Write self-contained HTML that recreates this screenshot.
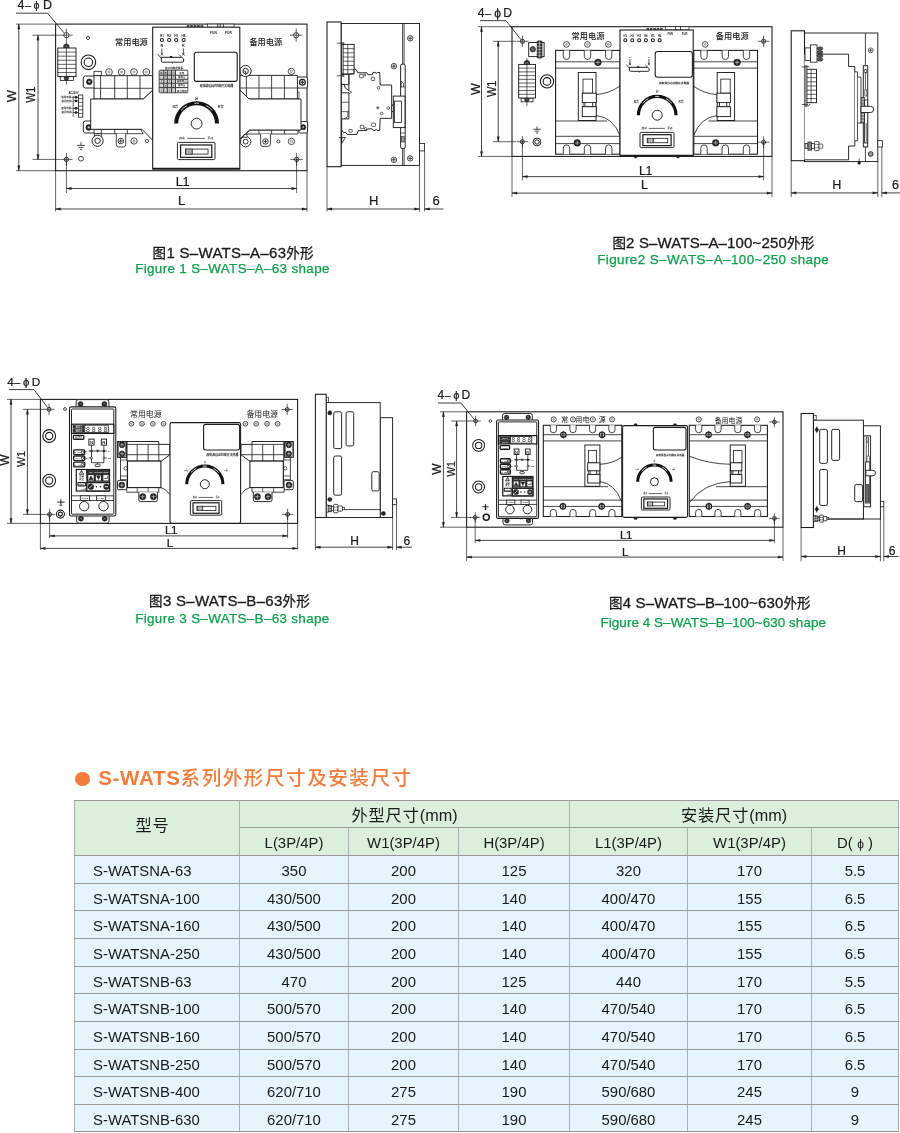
<!DOCTYPE html>
<html lang="zh-CN">
<head>
<meta charset="utf-8">
<title>S-WATS系列外形尺寸及安装尺寸</title>
<style>
html,body{margin:0;padding:0;background:#fff;}
body{width:900px;height:1133px;position:relative;overflow:hidden;font-family:"Liberation Sans","Noto Sans CJK SC",sans-serif;color:#1a1a1a;}
#draw{position:absolute;left:0;top:0;width:900px;height:760px;will-change:transform;}
#draw text{font-family:"Liberation Sans","Noto Sans CJK SC",sans-serif;}
#draw text.d{stroke:#1a1a1a;stroke-width:0.22px;}
h2{position:absolute;left:74.5px;top:764px;margin:0;font-size:20.5px;line-height:28px;font-weight:700;color:#f47c3c;white-space:nowrap;letter-spacing:0.7px;will-change:transform;}
h2 .dot{display:inline-block;width:14.6px;height:14.6px;border-radius:50%;background:#f47c3c;vertical-align:-1.2px;margin-right:8.6px;}
h2 .cn{font-weight:500;font-size:19.6px;letter-spacing:1.5px;}
table{position:absolute;left:74px;top:799.6px;border-collapse:collapse;table-layout:fixed;width:824px;font-size:14.9px;will-change:transform;}
td,th{border:1px solid #9a9a9a;border-left-color:#acb0b6;border-right-color:#acb0b6;padding:3.6px 0 0 0;text-align:center;font-weight:400;height:27px;line-height:22px;box-sizing:border-box;white-space:nowrap;overflow:hidden;}
tr.h28 td,tr.h28 th{height:28px;}
th{background:#dcefdc;}
td{background:#e6f5fd;}
td.m{text-align:left;padding-left:18px;}
th.big{font-size:16.2px;letter-spacing:0.9px;padding-top:2.6px;}
th.big .lat{letter-spacing:0;}
th.first{padding-right:9px;padding-top:0;padding-bottom:7px;}
</style>
</head>
<body>
<svg id="draw" width="900" height="760" viewBox="0 0 900 760" fill="none" stroke="#1c1c1c" stroke-width="0.95" stroke-linecap="butt" stroke-linejoin="miter">
<rect x="55.6" y="24.1" width="251.4" height="146.6" fill="#fff" stroke-width="1.08"/>
<text x="17.6" y="9.3" fill="#1a1a1a" stroke="none" font-size="12.5" class="d">4</text>
<text x="25.2" y="9.1" fill="#1a1a1a" stroke="none" font-size="10.5" class="d">–</text>
<text x="36.6" y="9.4" fill="#1a1a1a" stroke="none" font-size="10.7" class="d" text-anchor="middle">ϕ</text>
<text x="43" y="9.3" fill="#1a1a1a" stroke="none" font-size="12.5" class="d">D</text>
<polyline points="16,13.2 47.5,13.2 64.6,33.4" fill="none" stroke-width="0.84"/>
<line x1="16" y1="24.1" x2="55.6" y2="24.1" stroke-width="0.68"/>
<line x1="16" y1="170.7" x2="55.6" y2="170.7" stroke-width="0.68"/>
<line x1="18.8" y1="24.1" x2="18.8" y2="170.7" stroke-width="0.81"/>
<polygon points="18.8,24.1 17.6,29.1 20,29.1" fill="#1c1c1c" stroke-width="0.27"/>
<polygon points="18.8,170.7 17.6,165.7 20,165.7" fill="#1c1c1c" stroke-width="0.27"/>
<text x="16.2" y="96" fill="#1a1a1a" stroke="none" font-size="13" class="d" text-anchor="middle" transform="rotate(-90 16.2 96)">W</text>
<line x1="32.5" y1="35.2" x2="60" y2="35.2" stroke-width="0.68"/>
<line x1="32.5" y1="159.4" x2="60" y2="159.4" stroke-width="0.68"/>
<line x1="38" y1="35.2" x2="38" y2="159.4" stroke-width="0.81"/>
<polygon points="38,35.2 36.8,40.2 39.2,40.2" fill="#1c1c1c" stroke-width="0.27"/>
<polygon points="38,159.4 36.8,154.4 39.2,154.4" fill="#1c1c1c" stroke-width="0.27"/>
<text x="35" y="94.8" fill="#1a1a1a" stroke="none" font-size="12.2" class="d" text-anchor="middle" transform="rotate(-90 35 94.8)" textLength="16.1" lengthAdjust="spacingAndGlyphs">W1</text>
<circle cx="66.4" cy="35.2" r="2.6" fill="#fff" stroke-width="0.81"/>
<line x1="60.2" y1="35.2" x2="72.6" y2="35.2" stroke-width="0.68"/>
<line x1="66.4" y1="28.7" x2="66.4" y2="41.7" stroke-width="0.68"/>
<circle cx="296.2" cy="35.2" r="2.6" fill="#fff" stroke-width="0.81"/>
<line x1="290" y1="35.2" x2="302.4" y2="35.2" stroke-width="0.68"/>
<line x1="296.2" y1="28.7" x2="296.2" y2="41.7" stroke-width="0.68"/>
<circle cx="66.4" cy="159.4" r="2.2" fill="#ddd" stroke-width="0.81"/>
<line x1="60.2" y1="159.4" x2="72.6" y2="159.4" stroke-width="0.68"/>
<line x1="66.4" y1="152.9" x2="66.4" y2="165.9" stroke-width="0.68"/>
<circle cx="296.6" cy="159.4" r="2.2" fill="#ddd" stroke-width="0.81"/>
<line x1="290.4" y1="159.4" x2="302.8" y2="159.4" stroke-width="0.68"/>
<line x1="296.6" y1="152.9" x2="296.6" y2="165.9" stroke-width="0.68"/>
<line x1="66.4" y1="159.4" x2="66.4" y2="193" stroke-width="0.68"/>
<line x1="296.6" y1="159.4" x2="296.6" y2="193" stroke-width="0.68"/>
<line x1="55.6" y1="170.7" x2="55.6" y2="211.5" stroke-width="0.68"/>
<line x1="307" y1="170.7" x2="307" y2="211.5" stroke-width="0.68"/>
<line x1="66.4" y1="188.5" x2="296.6" y2="188.5" stroke-width="0.81"/>
<polygon points="66.4,188.5 71.4,187.3 71.4,189.7" fill="#1c1c1c" stroke-width="0.27"/>
<polygon points="296.6,188.5 291.6,187.3 291.6,189.7" fill="#1c1c1c" stroke-width="0.27"/>
<line x1="55.6" y1="209" x2="307" y2="209" stroke-width="0.81"/>
<polygon points="55.6,209 60.6,207.8 60.6,210.2" fill="#1c1c1c" stroke-width="0.27"/>
<polygon points="307,209 302,207.8 302,210.2" fill="#1c1c1c" stroke-width="0.27"/>
<text x="182.4" y="185.8" fill="#1a1a1a" stroke="none" font-size="12.8" class="d" text-anchor="middle" letter-spacing="-0.5">L1</text>
<text x="181.6" y="205.2" fill="#1a1a1a" stroke="none" font-size="12.8" class="d" text-anchor="middle">L</text>
<circle cx="88" cy="38" r="1.5" fill="#fff" stroke-width="0.81"/>
<text x="131.4" y="44.6" fill="#1a1a1a" stroke="none" font-size="8.2" text-anchor="middle" font-weight="500">常用电源</text>
<text x="265.8" y="44.6" fill="#1a1a1a" stroke="none" font-size="8.2" text-anchor="middle" font-weight="500">备用电源</text>
<circle cx="66.4" cy="46.8" r="2.8" fill="#444" stroke-width="0.68"/>
<circle cx="66.4" cy="46.8" r="1.2" fill="#aaa" stroke-width="0.41"/>
<rect x="60.3" y="76.6" width="13.2" height="3.8" fill="#fff" stroke-width="0.81"/>
<circle cx="66.4" cy="78.2" r="2.2" fill="#444" stroke-width="0.68"/>
<circle cx="66.4" cy="78.2" r="1" fill="#aaa" stroke-width="0.41"/>
<rect x="57.8" y="48" width="18.2" height="28.6" fill="#fff" stroke-width="0.94"/>
<line x1="57.8" y1="52.09" x2="76" y2="52.09" stroke-width="0.68"/>
<line x1="57.8" y1="56.17" x2="76" y2="56.17" stroke-width="0.68"/>
<line x1="57.8" y1="60.26" x2="76" y2="60.26" stroke-width="0.68"/>
<line x1="57.8" y1="64.34" x2="76" y2="64.34" stroke-width="0.68"/>
<line x1="57.8" y1="68.43" x2="76" y2="68.43" stroke-width="0.68"/>
<line x1="57.8" y1="72.51" x2="76" y2="72.51" stroke-width="0.68"/>
<line x1="66.4" y1="41.5" x2="66.4" y2="84.6" stroke-width="0.68"/>
<circle cx="88.4" cy="62.3" r="7.3" fill="#fff" stroke-width="1.08"/>
<circle cx="88.4" cy="62.3" r="4.3" fill="#fff" stroke-width="1.08"/>
<line x1="81" y1="142.2" x2="81" y2="145.4" stroke-width="0.81"/>
<line x1="77" y1="145.4" x2="85" y2="145.4" stroke-width="0.81"/>
<line x1="78.4" y1="147.4" x2="83.6" y2="147.4" stroke-width="0.81"/>
<line x1="79.8" y1="149.4" x2="82.2" y2="149.4" stroke-width="0.81"/>
<circle cx="81" cy="158.7" r="2.4" fill="#fff" stroke-width="0.81"/>
<text x="73.5" y="94" fill="#222" stroke="none" font-size="2.7" text-anchor="middle" font-weight="700">AC220V</text>
<rect x="78.6" y="95" width="4.2" height="22.2" fill="#fff" stroke-width="0.81"/>
<line x1="78.6" y1="98.7" x2="82.8" y2="98.7" stroke-width="0.68"/>
<line x1="78.6" y1="102.4" x2="82.8" y2="102.4" stroke-width="0.68"/>
<line x1="78.6" y1="106.1" x2="82.8" y2="106.1" stroke-width="0.68"/>
<line x1="78.6" y1="109.8" x2="82.8" y2="109.8" stroke-width="0.68"/>
<line x1="78.6" y1="113.5" x2="82.8" y2="113.5" stroke-width="0.68"/>
<line x1="73.2" y1="96" x2="73.2" y2="116.5" stroke-width="0.68"/>
<text x="73" y="98.1" fill="#333" stroke="none" font-size="2.5" text-anchor="end" font-weight="700">常用电源N</text>
<line x1="73.2" y1="97.2" x2="78.6" y2="97.2" stroke-width="0.68"/>
<circle cx="76" cy="97.2" r="1.2" fill="#222" stroke-width="0.27"/>
<text x="73" y="101.8" fill="#333" stroke="none" font-size="2.5" text-anchor="end" font-weight="700">常用电源L</text>
<line x1="73.2" y1="100.9" x2="78.6" y2="100.9" stroke-width="0.68"/>
<circle cx="76" cy="100.9" r="1.2" fill="#222" stroke-width="0.27"/>
<text x="73" y="109.1" fill="#333" stroke="none" font-size="2.5" text-anchor="end" font-weight="700">备用电源N</text>
<line x1="73.2" y1="108.2" x2="78.6" y2="108.2" stroke-width="0.68"/>
<circle cx="76" cy="108.2" r="1.2" fill="#222" stroke-width="0.27"/>
<text x="73" y="113.4" fill="#333" stroke="none" font-size="2.5" text-anchor="end" font-weight="700">备用电源L</text>
<line x1="73.2" y1="112.5" x2="78.6" y2="112.5" stroke-width="0.68"/>
<circle cx="76" cy="112.5" r="1.2" fill="#222" stroke-width="0.27"/>
<rect x="83.3" y="76" width="13.7" height="12" rx="2" fill="#fff" stroke-width="0.94"/>
<circle cx="89.3" cy="81.8" r="2.9" fill="#222" stroke-width="0.54"/>
<circle cx="89.3" cy="81.8" r="1.3" fill="#ccc" stroke-width="0.41"/>
<rect x="83.3" y="121" width="13.7" height="12" rx="2" fill="#fff" stroke-width="0.94"/>
<circle cx="88.8" cy="127.4" r="2.9" fill="#222" stroke-width="0.54"/>
<circle cx="88.8" cy="127.4" r="1.3" fill="#ccc" stroke-width="0.41"/>
<rect x="94" y="71.3" width="7.3" height="4.4" fill="#fff" stroke-width="0.81"/>
<circle cx="109" cy="72" r="3.35" fill="#fff" stroke-width="0.84" stroke="#2a2a2a"/>
<circle cx="109" cy="72" r="1.18" fill="#fff" stroke-width="0.41" stroke="#444"/>
<line x1="108.43" y1="72" x2="109.57" y2="72" stroke-width="0.3" stroke="#555"/>
<line x1="109" y1="71.43" x2="109" y2="72.57" stroke-width="0.3" stroke="#555"/>
<circle cx="121.6" cy="72" r="3.35" fill="#fff" stroke-width="0.84" stroke="#2a2a2a"/>
<circle cx="121.6" cy="72" r="1.18" fill="#fff" stroke-width="0.41" stroke="#444"/>
<line x1="121.03" y1="72" x2="122.17" y2="72" stroke-width="0.3" stroke="#555"/>
<line x1="121.6" y1="71.43" x2="121.6" y2="72.57" stroke-width="0.3" stroke="#555"/>
<circle cx="134" cy="72" r="3.35" fill="#fff" stroke-width="0.84" stroke="#2a2a2a"/>
<circle cx="134" cy="72" r="1.18" fill="#fff" stroke-width="0.41" stroke="#444"/>
<line x1="133.43" y1="72" x2="134.57" y2="72" stroke-width="0.3" stroke="#555"/>
<line x1="134" y1="71.43" x2="134" y2="72.57" stroke-width="0.3" stroke="#555"/>
<circle cx="146.3" cy="72" r="3.35" fill="#fff" stroke-width="0.84" stroke="#2a2a2a"/>
<circle cx="146.3" cy="72" r="1.18" fill="#fff" stroke-width="0.41" stroke="#444"/>
<line x1="145.73" y1="72" x2="146.87" y2="72" stroke-width="0.3" stroke="#555"/>
<line x1="146.3" y1="71.43" x2="146.3" y2="72.57" stroke-width="0.3" stroke="#555"/>
<polygon points="94,99 94,75.7 152.7,75.7 152.7,90.3 143.3,99" fill="#fff" stroke-width="0.94"/>
<line x1="94" y1="88.3" x2="152.7" y2="88.3" stroke-width="0.81"/>
<line x1="100.6" y1="75.7" x2="100.6" y2="99" stroke-width="0.81"/>
<line x1="114.7" y1="75.7" x2="114.7" y2="99" stroke-width="0.81"/>
<line x1="127.3" y1="75.7" x2="127.3" y2="99" stroke-width="0.81"/>
<line x1="140" y1="75.7" x2="140" y2="99" stroke-width="0.81"/>
<polygon points="94,129.3 94,133.7 143.4,133.7 140.4,129.3" fill="#fff" stroke-width="0.81"/>
<line x1="101.3" y1="129.3" x2="101.3" y2="133.7" stroke-width="0.81"/>
<line x1="114.7" y1="129.3" x2="114.7" y2="133.7" stroke-width="0.81"/>
<line x1="127.3" y1="129.3" x2="127.3" y2="133.7" stroke-width="0.81"/>
<polygon points="90.7,99 143.3,99 152.7,90.3 152.7,140.3 142,129.3 90.7,129.3" fill="#fff" stroke-width="0.94"/>
<rect x="94.7" y="133.7" width="6.6" height="3.8" fill="#fff" stroke-width="0.81"/>
<circle cx="97.6" cy="140.8" r="5.6" fill="#fff" stroke-width="0.94"/>
<circle cx="97.6" cy="140.8" r="2.7" fill="#fff" stroke-width="0.94"/>
<path d="M116.3 133.7 V144.5 Q116.3 147 118.8 147 H123.2 Q125.7 147 125.7 144.5 V133.7" fill="#fff" stroke-width="0.81"/>
<circle cx="120.8" cy="141" r="2.8" fill="#fff" stroke-width="0.81"/>
<line x1="118.84" y1="141" x2="122.76" y2="141" stroke-width="0.81"/>
<line x1="120.8" y1="139.04" x2="120.8" y2="142.96" stroke-width="0.81"/>
<circle cx="134" cy="141" r="3.15" fill="#fff" stroke-width="0.84" stroke="#2a2a2a"/>
<circle cx="134" cy="141" r="1.18" fill="#fff" stroke-width="0.41" stroke="#444"/>
<line x1="133.43" y1="141" x2="134.57" y2="141" stroke-width="0.3" stroke="#555"/>
<line x1="134" y1="140.43" x2="134" y2="141.57" stroke-width="0.3" stroke="#555"/>
<circle cx="147" cy="141" r="1.6" fill="#fff" stroke-width="0.81"/>
<rect x="296" y="77" width="11.6" height="11" rx="1.5" fill="#fff" stroke-width="0.94"/>
<circle cx="302.4" cy="82.2" r="2.9" fill="#fff" stroke-width="1.22"/>
<line x1="300.5" y1="82.2" x2="304.3" y2="82.2" stroke-width="1.08"/>
<line x1="302.4" y1="80.3" x2="302.4" y2="84.1" stroke-width="1.08"/>
<rect x="299" y="121.6" width="8.6" height="11.4" rx="1.5" fill="#fff" stroke-width="0.94"/>
<circle cx="303.2" cy="127.2" r="2.6" fill="#222" stroke-width="0.54"/>
<circle cx="303.2" cy="127.2" r="1.1" fill="#ccc" stroke-width="0.41"/>
<polygon points="239.8,75.4 297.4,75.4 297.4,99 249,99 239.8,90" fill="#fff" stroke-width="0.94"/>
<line x1="239.8" y1="88" x2="297.4" y2="88" stroke-width="0.81"/>
<line x1="246.4" y1="75.4" x2="246.4" y2="99" stroke-width="0.81"/>
<line x1="259" y1="75.4" x2="259" y2="99" stroke-width="0.81"/>
<line x1="271.6" y1="75.4" x2="271.6" y2="99" stroke-width="0.81"/>
<line x1="284.4" y1="75.4" x2="284.4" y2="99" stroke-width="0.81"/>
<rect x="297.4" y="92" width="1.6" height="6.4" fill="#fff" stroke-width="0.68"/>
<polygon points="250,130 246,134 298,134 298,130" fill="#fff" stroke-width="0.81"/>
<line x1="259" y1="130" x2="259" y2="134" stroke-width="0.81"/>
<line x1="271.6" y1="130" x2="271.6" y2="134" stroke-width="0.81"/>
<line x1="284.4" y1="130" x2="284.4" y2="134" stroke-width="0.81"/>
<polygon points="239.8,90 249,99 301,99 301,130 249.6,130 239.8,139" fill="#fff" stroke-width="0.94"/>
<circle cx="245.6" cy="71" r="5.6" fill="#fff" stroke-width="0.94"/>
<circle cx="245.6" cy="71" r="2.7" fill="#fff" stroke-width="0.94"/>
<line x1="245.6" y1="71" x2="245.6" y2="75.4" stroke-width="0.81"/>
<line x1="243.4" y1="71" x2="245.6" y2="71" stroke-width="0.68"/>
<circle cx="291.4" cy="71.4" r="3.15" fill="#fff" stroke-width="0.84" stroke="#2a2a2a"/>
<circle cx="291.4" cy="71.4" r="1.18" fill="#fff" stroke-width="0.41" stroke="#444"/>
<line x1="290.83" y1="71.4" x2="291.97" y2="71.4" stroke-width="0.3" stroke="#555"/>
<line x1="291.4" y1="70.83" x2="291.4" y2="71.97" stroke-width="0.3" stroke="#555"/>
<circle cx="245.6" cy="141.6" r="5.2" fill="#fff" stroke-width="0.94"/>
<circle cx="245.6" cy="141.6" r="2.5" fill="#fff" stroke-width="0.94"/>
<rect x="244" y="134.5" width="3" height="3" fill="#fff" stroke-width="0.68"/>
<path d="M260.6 134 V144 Q260.6 146.4 263 146.4 H268 Q270.4 146.4 270.4 144 V134" fill="#fff" stroke-width="0.81"/>
<circle cx="265.4" cy="141.4" r="2.8" fill="#fff" stroke-width="0.81"/>
<line x1="263.44" y1="141.4" x2="267.36" y2="141.4" stroke-width="0.81"/>
<line x1="265.4" y1="139.44" x2="265.4" y2="143.36" stroke-width="0.81"/>
<circle cx="278.4" cy="141.4" r="1.5" fill="#fff" stroke-width="0.81"/>
<circle cx="291.4" cy="141.4" r="3.15" fill="#fff" stroke-width="0.84" stroke="#2a2a2a"/>
<circle cx="291.4" cy="141.4" r="1.18" fill="#fff" stroke-width="0.41" stroke="#444"/>
<line x1="290.83" y1="141.4" x2="291.97" y2="141.4" stroke-width="0.3" stroke="#555"/>
<line x1="291.4" y1="140.83" x2="291.4" y2="141.97" stroke-width="0.3" stroke="#555"/>
<rect x="207.6" y="24.1" width="10.2" height="3.1" fill="#fff" stroke-width="0.68"/>
<rect x="217.8" y="24.1" width="2.4" height="3.1" fill="#fff" stroke-width="0.68"/>
<rect x="220.2" y="24.1" width="3.1" height="3.1" fill="#fff" stroke-width="0.68"/>
<rect x="223.3" y="24.1" width="10.8" height="3.1" fill="#fff" stroke-width="0.68"/>
<line x1="186.7" y1="26" x2="204" y2="26" stroke="#111" stroke-width="1.5" stroke-dasharray="2.7 0.75"/>
<rect x="152.7" y="27.2" width="87.1" height="141.8" fill="#fff" stroke-width="1.08"/>
<line x1="152.7" y1="168.7" x2="239.8" y2="168.7" stroke-width="1.76"/>
<text x="161.9" y="36.5" fill="#222" stroke="none" font-size="3.1" text-anchor="middle" font-weight="700">H1</text>
<circle cx="161.9" cy="40" r="1.6" fill="#fff" stroke-width="1.01"/>
<text x="169.1" y="36.5" fill="#222" stroke="none" font-size="3.1" text-anchor="middle" font-weight="700">H2</text>
<circle cx="169.1" cy="40" r="1.6" fill="#fff" stroke-width="1.01"/>
<text x="176.2" y="36.5" fill="#222" stroke="none" font-size="3.1" text-anchor="middle" font-weight="700">H3</text>
<circle cx="176.2" cy="40" r="1.6" fill="#fff" stroke-width="1.01"/>
<text x="183.6" y="36.5" fill="#222" stroke="none" font-size="3.1" text-anchor="middle" font-weight="700">H4</text>
<circle cx="183.6" cy="40" r="1.6" fill="#fff" stroke-width="1.01"/>
<text x="161.9" y="46.9" fill="#222" stroke="none" font-size="3.7" text-anchor="middle" font-weight="700">N</text>
<text x="183.4" y="46.9" fill="#222" stroke="none" font-size="3.7" text-anchor="middle" font-weight="700">R</text>
<line x1="161.9" y1="48.4" x2="161.9" y2="54.1" stroke-width="0.74"/>
<line x1="160.6" y1="53.1" x2="163.2" y2="55.5" stroke-width="0.68"/>
<line x1="160.6" y1="55.5" x2="163.2" y2="53.1" stroke-width="0.68"/>
<line x1="183.4" y1="48.4" x2="183.4" y2="54.1" stroke-width="0.74"/>
<line x1="182.1" y1="53.1" x2="184.7" y2="55.5" stroke-width="0.68"/>
<line x1="182.1" y1="55.5" x2="184.7" y2="53.1" stroke-width="0.68"/>
<path d="M161.4 57.3 V61.2 Q161.4 62.2 162.4 62.2 H182.6 Q183.6 62.2 183.6 61.2 V58.9" fill="none" stroke-width="0.94"/>
<line x1="161.4" y1="57.3" x2="181.6" y2="57.3" stroke-width="1.01"/>
<line x1="157.7" y1="54.1" x2="161.5" y2="58.7" stroke-width="0.81"/>
<line x1="179.1" y1="54.6" x2="183.6" y2="59.1" stroke-width="0.81"/>
<rect x="169.95" y="56.1" width="2.2" height="1.5" rx="0.4" fill="#111" stroke-width="0.14"/>
<line x1="172.35" y1="62.2" x2="172.35" y2="63.9" stroke-width="0.68"/>
<text x="210" y="34" fill="#222" stroke="none" font-size="3.3" font-weight="700">FUN</text>
<text x="225" y="34" fill="#222" stroke="none" font-size="3.3" font-weight="700">FUR</text>
<rect x="194.3" y="52.3" width="42.9" height="29.1" rx="2.2" fill="#fff" stroke-width="1.08"/>
<text x="216.5" y="87.4" fill="#111" stroke="none" font-size="3.05" text-anchor="middle" font-weight="700">双电源自动切换开关电器</text>
<text x="173.9" y="69" fill="#222" stroke="none" font-size="2.65" text-anchor="middle" font-weight="700">自动切换逻辑表</text>
<rect x="159.1" y="70.1" width="28.8" height="22.7" rx="1" fill="#3a3a3a" stroke-width="0.68"/>
<rect x="159.65" y="70.7" width="3.5" height="4" fill="#d2d2d2" stroke-width="0.14" stroke="#d2d2d2"/>
<text x="161.4" y="74.2" fill="#555" stroke="none" font-size="2.6" text-anchor="middle" font-weight="700">常</text>
<rect x="164.25" y="70.7" width="2.6" height="4" fill="#d2d2d2" stroke-width="0.14" stroke="#d2d2d2"/>
<text x="165.55" y="74.2" fill="#555" stroke="none" font-size="2.6" text-anchor="middle" font-weight="700">备</text>
<rect x="167.95" y="70.7" width="3" height="4" fill="#d2d2d2" stroke-width="0.14" stroke="#d2d2d2"/>
<text x="169.45" y="74.2" fill="#555" stroke="none" font-size="2.6" text-anchor="middle" font-weight="700">合</text>
<rect x="172.05" y="70.7" width="2.9" height="4" fill="#d2d2d2" stroke-width="0.14" stroke="#d2d2d2"/>
<text x="173.5" y="74.2" fill="#555" stroke="none" font-size="2.6" text-anchor="middle" font-weight="700">分</text>
<rect x="176.05" y="70.7" width="11.3" height="4" fill="#fff" stroke-width="0.14" stroke="#fff"/>
<rect x="159.65" y="75.9" width="3.5" height="2.8" fill="#d2d2d2" stroke-width="0.14" stroke="#d2d2d2"/>
<text x="161.4" y="78.2" fill="#555" stroke="none" font-size="2.6" text-anchor="middle" font-weight="700">○</text>
<rect x="164.25" y="75.9" width="2.6" height="2.8" fill="#d2d2d2" stroke-width="0.14" stroke="#d2d2d2"/>
<text x="165.55" y="78.2" fill="#555" stroke="none" font-size="2.6" text-anchor="middle" font-weight="700">×</text>
<rect x="167.95" y="75.9" width="3" height="2.8" fill="#d2d2d2" stroke-width="0.14" stroke="#d2d2d2"/>
<text x="169.45" y="78.2" fill="#555" stroke="none" font-size="2.6" text-anchor="middle" font-weight="700">○</text>
<rect x="172.05" y="75.9" width="2.9" height="2.8" fill="#d2d2d2" stroke-width="0.14" stroke="#d2d2d2"/>
<text x="173.5" y="78.2" fill="#555" stroke="none" font-size="2.6" text-anchor="middle" font-weight="700">×</text>
<rect x="176.05" y="75.9" width="11.3" height="2.8" fill="#fff" stroke-width="0.14" stroke="#fff"/>
<rect x="159.65" y="79.9" width="3.5" height="2.8" fill="#d2d2d2" stroke-width="0.14" stroke="#d2d2d2"/>
<text x="161.4" y="82.2" fill="#555" stroke="none" font-size="2.6" text-anchor="middle" font-weight="700">×</text>
<rect x="164.25" y="79.9" width="2.6" height="2.8" fill="#d2d2d2" stroke-width="0.14" stroke="#d2d2d2"/>
<text x="165.55" y="82.2" fill="#555" stroke="none" font-size="2.6" text-anchor="middle" font-weight="700">○</text>
<rect x="167.95" y="79.9" width="3" height="2.8" fill="#d2d2d2" stroke-width="0.14" stroke="#d2d2d2"/>
<text x="169.45" y="82.2" fill="#555" stroke="none" font-size="2.6" text-anchor="middle" font-weight="700">×</text>
<rect x="172.05" y="79.9" width="2.9" height="2.8" fill="#d2d2d2" stroke-width="0.14" stroke="#d2d2d2"/>
<text x="173.5" y="82.2" fill="#555" stroke="none" font-size="2.6" text-anchor="middle" font-weight="700">○</text>
<rect x="176.05" y="79.9" width="11.3" height="2.8" fill="#fff" stroke-width="0.14" stroke="#fff"/>
<rect x="159.65" y="83.9" width="3.5" height="3.1" fill="#d2d2d2" stroke-width="0.14" stroke="#d2d2d2"/>
<text x="161.4" y="86.5" fill="#555" stroke="none" font-size="2.6" text-anchor="middle" font-weight="700">○</text>
<rect x="164.25" y="83.9" width="2.6" height="3.1" fill="#d2d2d2" stroke-width="0.14" stroke="#d2d2d2"/>
<text x="165.55" y="86.5" fill="#555" stroke="none" font-size="2.6" text-anchor="middle" font-weight="700">×</text>
<rect x="167.95" y="83.9" width="3" height="3.1" fill="#d2d2d2" stroke-width="0.14" stroke="#d2d2d2"/>
<text x="169.45" y="86.5" fill="#555" stroke="none" font-size="2.6" text-anchor="middle" font-weight="700">○</text>
<rect x="172.05" y="83.9" width="2.9" height="3.1" fill="#d2d2d2" stroke-width="0.14" stroke="#d2d2d2"/>
<text x="173.5" y="86.5" fill="#555" stroke="none" font-size="2.6" text-anchor="middle" font-weight="700">×</text>
<rect x="176.05" y="83.9" width="11.3" height="3.1" fill="#fff" stroke-width="0.14" stroke="#fff"/>
<rect x="159.65" y="88.2" width="3.5" height="4" fill="#d2d2d2" stroke-width="0.14" stroke="#d2d2d2"/>
<text x="161.4" y="91.7" fill="#555" stroke="none" font-size="2.6" text-anchor="middle" font-weight="700">×</text>
<rect x="164.25" y="88.2" width="2.6" height="4" fill="#d2d2d2" stroke-width="0.14" stroke="#d2d2d2"/>
<text x="165.55" y="91.7" fill="#555" stroke="none" font-size="2.6" text-anchor="middle" font-weight="700">○</text>
<rect x="167.95" y="88.2" width="3" height="4" fill="#d2d2d2" stroke-width="0.14" stroke="#d2d2d2"/>
<text x="169.45" y="91.7" fill="#555" stroke="none" font-size="2.6" text-anchor="middle" font-weight="700">×</text>
<rect x="172.05" y="88.2" width="2.9" height="4" fill="#d2d2d2" stroke-width="0.14" stroke="#d2d2d2"/>
<text x="173.5" y="91.7" fill="#555" stroke="none" font-size="2.6" text-anchor="middle" font-weight="700">○</text>
<rect x="176.05" y="88.2" width="11.3" height="4" fill="#fff" stroke-width="0.14" stroke="#fff"/>
<text x="181.7" y="74" fill="#333" stroke="none" font-size="2.5" text-anchor="middle" font-weight="700">状态</text>
<text x="181.7" y="78" fill="#333" stroke="none" font-size="2.5" text-anchor="middle" font-weight="700">常电合</text>
<text x="181.7" y="82" fill="#333" stroke="none" font-size="2.5" text-anchor="middle" font-weight="700">常备电合</text>
<text x="181.7" y="86.3" fill="#333" stroke="none" font-size="2.5" text-anchor="middle" font-weight="700">备电合</text>
<text x="181.7" y="91.5" fill="#333" stroke="none" font-size="2.5" text-anchor="middle" font-weight="700">双分电网</text>
<path d="M176.2 123.6 A20.4 20.4 0 0 1 217 123.6" fill="none" stroke-width="4" stroke="#111"/>
<path d="M194.47 103.31 A20.4 20.4 0 0 1 198.73 103.31" fill="none" stroke-width="0.81" stroke="#fff"/>
<path d="M180.97 110.49 A20.4 20.4 0 0 1 187.02 105.59" fill="none" stroke-width="0.81" stroke="#fff"/>
<path d="M206.18 105.59 A20.4 20.4 0 0 1 212.23 110.49" fill="none" stroke-width="0.81" stroke="#fff"/>
<circle cx="196.6" cy="123.6" r="5.4" fill="#fff" stroke-width="0.94"/>
<text x="196.6" y="99.6" fill="#222" stroke="none" font-size="3.2" text-anchor="middle" font-weight="700">分</text>
<text x="178" y="107.8" fill="#222" stroke="none" font-size="3.2" text-anchor="end" font-weight="700">N合</text>
<text x="218" y="107.8" fill="#222" stroke="none" font-size="3.2" font-weight="700">R合</text>
<rect x="177.4" y="142.4" width="37.6" height="17.2" rx="1.2" fill="#fff" stroke-width="0.94"/>
<rect x="180.6" y="144.98" width="31.21" height="12.38" fill="#fff" stroke-width="1.22"/>
<rect x="185.48" y="149.11" width="22.56" height="4.99" fill="#fff" stroke-width="0.81"/>
<rect x="185.48" y="149.11" width="6.77" height="4.99" fill="#999" stroke-width="0.68"/>
<line x1="187.74" y1="149.11" x2="187.74" y2="154.1" stroke-width="0.54" stroke="#fff"/>
<line x1="190" y1="149.11" x2="190" y2="154.1" stroke-width="0.54" stroke="#fff"/>
<text x="184.92" y="139.41" fill="#222" stroke="none" font-size="2.8" text-anchor="end" font-weight="700">自动</text>
<line x1="187.18" y1="138.4" x2="204.85" y2="138.4" stroke-width="0.68"/>
<text x="207.48" y="139.41" fill="#222" stroke="none" font-size="2.8" font-weight="700">手动</text>
<line x1="327" y1="166.7" x2="327" y2="211.5" stroke-width="0.68"/>
<line x1="419.5" y1="165.4" x2="419.5" y2="211.5" stroke-width="0.68"/>
<line x1="424.6" y1="150.9" x2="424.6" y2="211.5" stroke-width="0.68"/>
<line x1="327" y1="209" x2="419.5" y2="209" stroke-width="0.81"/>
<polygon points="327,209 332,207.8 332,210.2" fill="#1c1c1c" stroke-width="0.27"/>
<polygon points="419.5,209 414.5,207.8 414.5,210.2" fill="#1c1c1c" stroke-width="0.27"/>
<line x1="424.6" y1="209" x2="443.5" y2="209" stroke-width="0.81"/>
<polygon points="424.6,209 429.6,207.8 429.6,210.2" fill="#1c1c1c" stroke-width="0.27"/>
<text x="373.7" y="205" fill="#1a1a1a" stroke="none" font-size="13" class="d" text-anchor="middle">H</text>
<text x="436.2" y="205" fill="#1a1a1a" stroke="none" font-size="13" class="d" text-anchor="middle">6</text>
<rect x="341.1" y="23.5" width="78.4" height="141.9" fill="#fff" stroke-width="0.94"/>
<rect x="327" y="22" width="14.1" height="144.7" fill="#fff" stroke-width="1.08"/>
<line x1="402.6" y1="23.5" x2="402.6" y2="165.4" stroke-width="0.81"/>
<line x1="404.1" y1="23.5" x2="404.1" y2="165.4" stroke-width="0.81"/>
<rect x="419.5" y="143.5" width="5.1" height="7.4" fill="#fff" stroke-width="0.81"/>
<circle cx="410.2" cy="38.3" r="2.7" fill="#fff" stroke-width="0.81"/>
<line x1="408.31" y1="38.3" x2="412.09" y2="38.3" stroke-width="0.81"/>
<line x1="410.2" y1="36.41" x2="410.2" y2="40.19" stroke-width="0.81"/>
<circle cx="393.9" cy="66.1" r="2.7" fill="#fff" stroke-width="0.81"/>
<line x1="392.01" y1="66.1" x2="395.79" y2="66.1" stroke-width="0.81"/>
<line x1="393.9" y1="64.21" x2="393.9" y2="67.99" stroke-width="0.81"/>
<circle cx="393.9" cy="159.8" r="2.7" fill="#fff" stroke-width="0.81"/>
<line x1="392.01" y1="159.8" x2="395.79" y2="159.8" stroke-width="0.81"/>
<line x1="393.9" y1="157.91" x2="393.9" y2="161.69" stroke-width="0.81"/>
<circle cx="410.2" cy="158.4" r="2.7" fill="#fff" stroke-width="0.81"/>
<line x1="408.31" y1="158.4" x2="412.09" y2="158.4" stroke-width="0.81"/>
<line x1="410.2" y1="156.51" x2="410.2" y2="160.29" stroke-width="0.81"/>
<rect x="400.6" y="64.2" width="4.6" height="84.4" rx="1.5" fill="#fff" stroke-width="0.94"/>
<line x1="400.6" y1="87" x2="405.2" y2="87" stroke-width="0.68"/>
<line x1="400.6" y1="133" x2="405.2" y2="133" stroke-width="0.68"/>
<path d="M401.2 87 V81 L403.5 83.5 V87" fill="none" stroke-width="0.68"/>
<rect x="401.6" y="136.5" width="2.6" height="5.5" fill="#999" stroke-width="0.54"/>
<rect x="393.3" y="96.1" width="11.7" height="31.5" fill="#fff" stroke-width="0.94"/>
<rect x="394.4" y="101.1" width="7" height="21.3" fill="#fff" stroke-width="0.81"/>
<rect x="391.7" y="105" width="1.6" height="6.7" fill="#fff" stroke-width="0.68"/>
<rect x="341.7" y="44.4" width="12.4" height="29.5" fill="#fff" stroke-width="0.94"/>
<line x1="347.8" y1="44.4" x2="347.8" y2="73.9" stroke-width="0.68"/>
<line x1="343.2" y1="42" x2="343.2" y2="77" stroke-width="0.81"/>
<line x1="343.2" y1="48.61" x2="354.1" y2="48.61" stroke-width="0.68"/>
<line x1="343.2" y1="52.83" x2="354.1" y2="52.83" stroke-width="0.68"/>
<line x1="343.2" y1="57.04" x2="354.1" y2="57.04" stroke-width="0.68"/>
<line x1="343.2" y1="61.26" x2="354.1" y2="61.26" stroke-width="0.68"/>
<line x1="343.2" y1="65.47" x2="354.1" y2="65.47" stroke-width="0.68"/>
<line x1="343.2" y1="69.69" x2="354.1" y2="69.69" stroke-width="0.68"/>
<line x1="336.7" y1="43.1" x2="344.5" y2="43.1" stroke-width="0.68"/>
<line x1="336.7" y1="75.8" x2="344.5" y2="75.8" stroke-width="0.68"/>
<polygon points="354.11,68.89 356.11,69.44 357.78,72.78 366.67,72.78 367.78,74.67 372.22,74.67 373,72.44 375.56,72.44 376.33,73.56 377.22,72.44 379.67,72.44 380.22,85 391.67,85 391.67,118.33 380.22,118.33 379.67,130.56 377.22,130.56 376.33,129.44 373.89,130.89 372.22,128.89 367.78,128.89 366.67,130.56 358.33,130.56 356.67,134.44 347.22,134.44 345.56,132.44 343.33,132.44 341.67,130 341.67,118.89 348.89,118.89 348.89,92.78 341.67,92.78 341.67,84.44 344.44,84.44 345,87.78 348.89,90.56 348.89,74.44 354.11,73.89" fill="#fff" stroke-width="0.94"/>
<polyline points="341.67,84.44 348.89,84.44 348.89,74.44 341.67,74.44" fill="none" stroke-width="0.81"/>
<line x1="341.7" y1="102.22" x2="348.89" y2="102.22" stroke-width="0.68"/>
<line x1="341.7" y1="111.67" x2="348.89" y2="111.67" stroke-width="0.68"/>
<polyline points="348.89,90.56 351.67,92.22 348.89,93.89" fill="none" stroke-width="0.68"/>
<polyline points="344.44,118.89 347.78,116.67 347.78,111.67" fill="none" stroke-width="0.68"/>
<rect x="359.44" y="74.44" width="3.89" height="3.33" rx="0.6" fill="#fff" stroke-width="0.68"/>
<rect x="371.33" y="77.22" width="3.33" height="3.33" rx="0.6" fill="#fff" stroke-width="0.68"/>
<rect x="371.67" y="123.11" width="3.89" height="3.33" rx="0.6" fill="#fff" stroke-width="0.68"/>
<rect x="360.33" y="125.33" width="3.56" height="3.33" rx="0.6" fill="#fff" stroke-width="0.68"/>
<rect x="348.89" y="129.44" width="3.33" height="2.78" rx="0.6" fill="#fff" stroke-width="0.68"/>
<circle cx="378.56" cy="87.78" r="1.33" fill="#fff" stroke-width="0.68"/>
<circle cx="388.33" cy="108.11" r="1.33" fill="#fff" stroke-width="0.68"/>
<circle cx="381.67" cy="113.56" r="1.33" fill="#fff" stroke-width="0.68"/>
<circle cx="365.56" cy="128.67" r="1.11" fill="#fff" stroke-width="0.68"/>
<circle cx="364.78" cy="75" r="1" fill="#fff" stroke-width="0.68"/>
<circle cx="377.78" cy="107.78" r="1.1" fill="#999" stroke-width="0.54"/>
<polyline points="338.89,137.56 345.56,137.56 341.67,143.33 341.67,137.56" fill="none" stroke-width="0.81"/>
<polyline points="341.67,130 341.67,143.33" fill="none" stroke-width="0.81"/>
<rect x="512" y="26.7" width="260" height="129.7" fill="#fff" stroke-width="1.08"/>
<text x="477.8" y="16.8" fill="#1a1a1a" stroke="none" font-size="12.2" class="d">4</text>
<text x="485.2" y="16.6" fill="#1a1a1a" stroke="none" font-size="10.5" class="d">–</text>
<text x="497.5" y="17.1" fill="#1a1a1a" stroke="none" font-size="12" class="d" text-anchor="middle">ϕ</text>
<text x="503.2" y="16.8" fill="#1a1a1a" stroke="none" font-size="12.2" class="d">D</text>
<polyline points="480,20.7 506,20.7 521,39.6" fill="none" stroke-width="0.84"/>
<line x1="478" y1="26.7" x2="512" y2="26.7" stroke-width="0.68"/>
<line x1="478" y1="156.4" x2="512" y2="156.4" stroke-width="0.68"/>
<line x1="481.5" y1="26.7" x2="481.5" y2="156.4" stroke-width="0.81"/>
<polygon points="481.5,26.7 480.3,31.7 482.7,31.7" fill="#1c1c1c" stroke-width="0.27"/>
<polygon points="481.5,156.4 480.3,151.4 482.7,151.4" fill="#1c1c1c" stroke-width="0.27"/>
<text x="479.6" y="89" fill="#1a1a1a" stroke="none" font-size="12.5" class="d" text-anchor="middle" transform="rotate(-90 479.6 89)">W</text>
<line x1="493" y1="41.3" x2="516" y2="41.3" stroke-width="0.68"/>
<line x1="493" y1="141.7" x2="516" y2="141.7" stroke-width="0.68"/>
<line x1="498.2" y1="41.3" x2="498.2" y2="141.7" stroke-width="0.81"/>
<polygon points="498.2,41.3 497,46.3 499.4,46.3" fill="#1c1c1c" stroke-width="0.27"/>
<polygon points="498.2,141.7 497,136.7 499.4,136.7" fill="#1c1c1c" stroke-width="0.27"/>
<text x="496" y="88.8" fill="#1a1a1a" stroke="none" font-size="12" class="d" text-anchor="middle" transform="rotate(-90 496 88.8)" textLength="16.4" lengthAdjust="spacingAndGlyphs">W1</text>
<circle cx="522.4" cy="41.3" r="2.1" fill="#ddd" stroke-width="0.81"/>
<line x1="516.6" y1="41.3" x2="528.2" y2="41.3" stroke-width="0.68"/>
<line x1="522.4" y1="35.5" x2="522.4" y2="47.1" stroke-width="0.68"/>
<circle cx="763.6" cy="41.3" r="2.1" fill="#ddd" stroke-width="0.81"/>
<line x1="757.8" y1="41.3" x2="769.4" y2="41.3" stroke-width="0.68"/>
<line x1="763.6" y1="35.5" x2="763.6" y2="47.1" stroke-width="0.68"/>
<circle cx="522.4" cy="141.7" r="2.1" fill="#ddd" stroke-width="0.81"/>
<line x1="516.6" y1="141.7" x2="528.2" y2="141.7" stroke-width="0.68"/>
<line x1="522.4" y1="135.9" x2="522.4" y2="147.5" stroke-width="0.68"/>
<circle cx="763.6" cy="142.2" r="2.1" fill="#ddd" stroke-width="0.81"/>
<line x1="757.8" y1="142.2" x2="769.4" y2="142.2" stroke-width="0.68"/>
<line x1="763.6" y1="136.4" x2="763.6" y2="148" stroke-width="0.68"/>
<line x1="522.4" y1="141.7" x2="522.4" y2="180.4" stroke-width="0.68"/>
<line x1="763.6" y1="142.2" x2="763.6" y2="180.4" stroke-width="0.68"/>
<line x1="512" y1="156.4" x2="512" y2="197" stroke-width="0.68"/>
<line x1="772" y1="156.4" x2="772" y2="197" stroke-width="0.68"/>
<line x1="522.4" y1="176.6" x2="763.6" y2="176.6" stroke-width="0.81"/>
<polygon points="522.4,176.6 527.4,175.4 527.4,177.8" fill="#1c1c1c" stroke-width="0.27"/>
<polygon points="763.6,176.6 758.6,175.4 758.6,177.8" fill="#1c1c1c" stroke-width="0.27"/>
<line x1="512" y1="193.1" x2="772" y2="193.1" stroke-width="0.81"/>
<polygon points="512,193.1 517,191.9 517,194.3" fill="#1c1c1c" stroke-width="0.27"/>
<polygon points="772,193.1 767,191.9 767,194.3" fill="#1c1c1c" stroke-width="0.27"/>
<text x="645.5" y="174.7" fill="#1a1a1a" stroke="none" font-size="12.4" class="d" text-anchor="middle" letter-spacing="-0.5">L1</text>
<text x="644.5" y="188.9" fill="#1a1a1a" stroke="none" font-size="12.4" class="d" text-anchor="middle">L</text>
<text x="588" y="38.8" fill="#1a1a1a" stroke="none" font-size="8.2" text-anchor="middle" font-weight="500">常用电源</text>
<text x="732.2" y="38.8" fill="#1a1a1a" stroke="none" font-size="8.2" text-anchor="middle" font-weight="500">备用电源</text>
<rect x="528.7" y="42.5" width="15.4" height="14.1" fill="#fff" stroke-width="0.94"/>
<circle cx="532.8" cy="49.3" r="2.7" fill="#555" stroke-width="0.68"/>
<circle cx="532.8" cy="49.3" r="1.2" fill="#999" stroke-width="0.41"/>
<rect x="537.2" y="40.9" width="4.8" height="17.2" rx="0.8" fill="#333" stroke-width="0.68"/>
<line x1="537.6" y1="43.4" x2="541.6" y2="43.4" stroke-width="0.61" stroke="#ddd"/>
<line x1="537.6" y1="46.5" x2="541.6" y2="46.5" stroke-width="0.61" stroke="#ddd"/>
<line x1="537.6" y1="49.6" x2="541.6" y2="49.6" stroke-width="0.61" stroke="#ddd"/>
<line x1="537.6" y1="52.7" x2="541.6" y2="52.7" stroke-width="0.61" stroke="#ddd"/>
<line x1="537.6" y1="55.8" x2="541.6" y2="55.8" stroke-width="0.61" stroke="#ddd"/>
<line x1="539.6" y1="41.4" x2="539.6" y2="57.6" stroke-width="0.54" stroke="#ddd"/>
<circle cx="526.9" cy="63.2" r="2.8" fill="#444" stroke-width="0.68"/>
<circle cx="526.9" cy="63.2" r="1.2" fill="#aaa" stroke-width="0.41"/>
<rect x="521.2" y="98" width="11.8" height="3.8" fill="#fff" stroke-width="0.81"/>
<circle cx="526.9" cy="99.6" r="2.2" fill="#444" stroke-width="0.68"/>
<circle cx="526.9" cy="99.6" r="1" fill="#aaa" stroke-width="0.41"/>
<rect x="518.7" y="64.4" width="16.8" height="33.6" fill="#fff" stroke-width="0.94"/>
<line x1="518.7" y1="68.13" x2="535.5" y2="68.13" stroke-width="0.68"/>
<line x1="518.7" y1="71.87" x2="535.5" y2="71.87" stroke-width="0.68"/>
<line x1="518.7" y1="75.6" x2="535.5" y2="75.6" stroke-width="0.68"/>
<line x1="518.7" y1="79.33" x2="535.5" y2="79.33" stroke-width="0.68"/>
<line x1="518.7" y1="83.07" x2="535.5" y2="83.07" stroke-width="0.68"/>
<line x1="518.7" y1="86.8" x2="535.5" y2="86.8" stroke-width="0.68"/>
<line x1="518.7" y1="90.53" x2="535.5" y2="90.53" stroke-width="0.68"/>
<line x1="518.7" y1="94.27" x2="535.5" y2="94.27" stroke-width="0.68"/>
<line x1="526.9" y1="57.9" x2="526.9" y2="106" stroke-width="0.68"/>
<circle cx="547" cy="81.4" r="6.6" fill="#fff" stroke-width="1.08"/>
<circle cx="547" cy="81.4" r="3.8" fill="#fff" stroke-width="1.08"/>
<line x1="537" y1="126.4" x2="537" y2="129.28" stroke-width="0.81"/>
<line x1="533.4" y1="129.28" x2="540.6" y2="129.28" stroke-width="0.81"/>
<line x1="534.66" y1="131.08" x2="539.34" y2="131.08" stroke-width="0.81"/>
<line x1="535.92" y1="132.88" x2="538.08" y2="132.88" stroke-width="0.81"/>
<circle cx="537" cy="142" r="3.9" fill="#fff" stroke-width="0.94"/>
<circle cx="537" cy="142" r="2.2" fill="#fff" stroke-width="0.94"/>
<circle cx="566.5" cy="44.4" r="2.85" fill="#fff" stroke-width="0.84" stroke="#2a2a2a"/>
<circle cx="566.5" cy="44.4" r="1.05" fill="#fff" stroke-width="0.41" stroke="#444"/>
<line x1="565.99" y1="44.4" x2="567.01" y2="44.4" stroke-width="0.3" stroke="#555"/>
<line x1="566.5" y1="43.89" x2="566.5" y2="44.91" stroke-width="0.3" stroke="#555"/>
<circle cx="587.4" cy="44.4" r="2.85" fill="#fff" stroke-width="0.84" stroke="#2a2a2a"/>
<circle cx="587.4" cy="44.4" r="1.05" fill="#fff" stroke-width="0.41" stroke="#444"/>
<line x1="586.89" y1="44.4" x2="587.91" y2="44.4" stroke-width="0.3" stroke="#555"/>
<line x1="587.4" y1="43.89" x2="587.4" y2="44.91" stroke-width="0.3" stroke="#555"/>
<circle cx="608.4" cy="44.4" r="2.85" fill="#fff" stroke-width="0.84" stroke="#2a2a2a"/>
<circle cx="608.4" cy="44.4" r="1.05" fill="#fff" stroke-width="0.41" stroke="#444"/>
<line x1="607.89" y1="44.4" x2="608.91" y2="44.4" stroke-width="0.3" stroke="#555"/>
<line x1="608.4" y1="43.89" x2="608.4" y2="44.91" stroke-width="0.3" stroke="#555"/>
<circle cx="705.2" cy="44.4" r="2.85" fill="#fff" stroke-width="0.84" stroke="#2a2a2a"/>
<circle cx="705.2" cy="44.4" r="1.05" fill="#fff" stroke-width="0.41" stroke="#444"/>
<line x1="704.69" y1="44.4" x2="705.71" y2="44.4" stroke-width="0.3" stroke="#555"/>
<line x1="705.2" y1="43.89" x2="705.2" y2="44.91" stroke-width="0.3" stroke="#555"/>
<rect x="555.6" y="50.4" width="64.4" height="103.8" fill="#fff" stroke-width="1.08"/>
<path d="M563.3 50.4 V56.3 A3.2 3.2 0 0 0 569.7 56.3 V50.4" fill="#fff" stroke-width="0.81"/>
<path d="M563.3 154.2 V148.1 A3.2 3.2 0 0 1 569.7 148.1 V154.2" fill="#fff" stroke-width="0.81"/>
<path d="M584.3 50.4 V56.3 A3.2 3.2 0 0 0 590.7 56.3 V50.4" fill="#fff" stroke-width="0.81"/>
<path d="M584.3 154.2 V148.1 A3.2 3.2 0 0 1 590.7 148.1 V154.2" fill="#fff" stroke-width="0.81"/>
<path d="M605.5 50.4 V56.3 A3.2 3.2 0 0 0 611.9 56.3 V50.4" fill="#fff" stroke-width="0.81"/>
<path d="M605.5 154.2 V148.1 A3.2 3.2 0 0 1 611.9 148.1 V154.2" fill="#fff" stroke-width="0.81"/>
<line x1="555.6" y1="61.8" x2="620" y2="61.8" stroke-width="0.81"/>
<line x1="555.6" y1="68.1" x2="620" y2="68.1" stroke-width="0.81"/>
<line x1="555.6" y1="136.3" x2="620" y2="136.3" stroke-width="0.81"/>
<line x1="555.6" y1="143.6" x2="620" y2="143.6" stroke-width="0.81"/>
<rect x="578.3" y="72.5" width="17.7" height="48" fill="#fff" stroke-width="0.94"/>
<line x1="555.6" y1="121" x2="607" y2="121" stroke-width="0.81"/>
<rect x="583" y="79.1" width="9.6" height="14.1" fill="#fff" stroke-width="0.81"/>
<rect x="582.3" y="93.2" width="14" height="9.3" fill="#fff" stroke-width="0.94"/>
<rect x="583.1" y="102.5" width="12.4" height="4.2" fill="#fff" stroke-width="0.68"/>
<line x1="584.9" y1="102.5" x2="584.9" y2="106.7" stroke-width="0.94"/>
<line x1="592.7" y1="102.5" x2="592.7" y2="106.7" stroke-width="0.94"/>
<rect x="582.3" y="106.7" width="14" height="9.9" fill="#fff" stroke-width="0.94"/>
<path d="M596.3 94.6 Q609.3 93.6 620 86" fill="none" stroke-width="0.81"/>
<path d="M596.3 115.5 Q613.5 117.6 620 135.9" fill="none" stroke-width="0.81"/>
<circle cx="598" cy="62.4" r="3.3" fill="#262626" stroke-width="0.54"/>
<line x1="595.82" y1="62.4" x2="600.18" y2="62.4" stroke-width="0.57" stroke="#e8e8e8"/>
<line x1="598" y1="60.22" x2="598" y2="64.58" stroke-width="0.57" stroke="#e8e8e8"/>
<circle cx="577.2" cy="142.9" r="3.3" fill="#262626" stroke-width="0.54"/>
<line x1="575.02" y1="142.9" x2="579.38" y2="142.9" stroke-width="0.57" stroke="#e8e8e8"/>
<line x1="577.2" y1="140.72" x2="577.2" y2="145.08" stroke-width="0.57" stroke="#e8e8e8"/>
<rect x="693.8" y="50.4" width="63.7" height="103.8" fill="#fff" stroke-width="1.08"/>
<path d="M700.8 50.4 V56.3 A3.2 3.2 0 0 0 707.2 56.3 V50.4" fill="#fff" stroke-width="0.81"/>
<path d="M700.8 154.2 V148.1 A3.2 3.2 0 0 1 707.2 148.1 V154.2" fill="#fff" stroke-width="0.81"/>
<path d="M722.1 50.4 V56.3 A3.2 3.2 0 0 0 728.5 56.3 V50.4" fill="#fff" stroke-width="0.81"/>
<path d="M722.1 154.2 V148.1 A3.2 3.2 0 0 1 728.5 148.1 V154.2" fill="#fff" stroke-width="0.81"/>
<path d="M743.3 50.4 V56.3 A3.2 3.2 0 0 0 749.7 56.3 V50.4" fill="#fff" stroke-width="0.81"/>
<path d="M743.3 154.2 V148.1 A3.2 3.2 0 0 1 749.7 148.1 V154.2" fill="#fff" stroke-width="0.81"/>
<line x1="693.8" y1="61.8" x2="757.5" y2="61.8" stroke-width="0.81"/>
<line x1="693.8" y1="68.1" x2="757.5" y2="68.1" stroke-width="0.81"/>
<line x1="693.8" y1="136.3" x2="757.5" y2="136.3" stroke-width="0.81"/>
<line x1="693.8" y1="143.6" x2="757.5" y2="143.6" stroke-width="0.81"/>
<rect x="717.2" y="72.5" width="17.4" height="48" fill="#fff" stroke-width="0.94"/>
<line x1="708.6" y1="121" x2="757.5" y2="121" stroke-width="0.81"/>
<rect x="720.8" y="79.1" width="9.4" height="14.1" fill="#fff" stroke-width="0.81"/>
<rect x="716.9" y="93.2" width="13.5" height="9.3" fill="#fff" stroke-width="0.94"/>
<rect x="717.7" y="102.5" width="11.9" height="4.2" fill="#fff" stroke-width="0.68"/>
<line x1="719.5" y1="102.5" x2="719.5" y2="106.7" stroke-width="0.94"/>
<line x1="726.8" y1="102.5" x2="726.8" y2="106.7" stroke-width="0.94"/>
<rect x="716.9" y="106.7" width="13.5" height="9.9" fill="#fff" stroke-width="0.94"/>
<path d="M716.9 94.6 Q703.9 93.6 693.8 86.3" fill="none" stroke-width="0.81"/>
<path d="M716.9 115.5 Q700.3 117.6 693.8 135.4" fill="none" stroke-width="0.81"/>
<circle cx="737.1" cy="62.4" r="3.3" fill="#262626" stroke-width="0.54"/>
<line x1="734.92" y1="62.4" x2="739.28" y2="62.4" stroke-width="0.57" stroke="#e8e8e8"/>
<line x1="737.1" y1="60.22" x2="737.1" y2="64.58" stroke-width="0.57" stroke="#e8e8e8"/>
<circle cx="715.7" cy="142.9" r="3.3" fill="#262626" stroke-width="0.54"/>
<line x1="713.52" y1="142.9" x2="717.88" y2="142.9" stroke-width="0.57" stroke="#e8e8e8"/>
<line x1="715.7" y1="140.72" x2="715.7" y2="145.08" stroke-width="0.57" stroke="#e8e8e8"/>
<rect x="665.5" y="26.7" width="10" height="3.3" fill="#fff" stroke-width="0.68"/>
<rect x="675.5" y="26.7" width="5" height="3.3" fill="#fff" stroke-width="0.68"/>
<rect x="680.5" y="26.7" width="8.5" height="3.3" fill="#fff" stroke-width="0.68"/>
<line x1="646.5" y1="29" x2="662.7" y2="29" stroke="#111" stroke-width="1.7" stroke-dasharray="2.6 0.8"/>
<circle cx="635.6" cy="156.6" r="1.5" fill="#111" stroke-width="0.41"/>
<circle cx="678" cy="156.6" r="1.5" fill="#111" stroke-width="0.41"/>
<rect x="620" y="30" width="73.2" height="125.8" fill="#fff" stroke-width="1.08"/>
<line x1="620" y1="155.6" x2="693.2" y2="155.6" stroke-width="1.49"/>
<text x="625.3" y="36.7" fill="#222" stroke="none" font-size="2.7" text-anchor="middle" font-weight="700">H1</text>
<circle cx="625.3" cy="40.2" r="1.55" fill="#fff" stroke-width="1.01"/>
<text x="632.3" y="36.7" fill="#222" stroke="none" font-size="2.7" text-anchor="middle" font-weight="700">H2</text>
<circle cx="632.3" cy="40.2" r="1.55" fill="#fff" stroke-width="1.01"/>
<text x="639.2" y="36.7" fill="#222" stroke="none" font-size="2.7" text-anchor="middle" font-weight="700">H3</text>
<circle cx="639.2" cy="40.2" r="1.55" fill="#fff" stroke-width="1.01"/>
<text x="645.9" y="36.7" fill="#222" stroke="none" font-size="2.7" text-anchor="middle" font-weight="700">H4</text>
<circle cx="645.9" cy="40.2" r="1.55" fill="#fff" stroke-width="1.01"/>
<text x="652.8" y="36.7" fill="#222" stroke="none" font-size="2.7" text-anchor="middle" font-weight="700">H5</text>
<circle cx="652.8" cy="40.2" r="1.55" fill="#fff" stroke-width="1.01"/>
<text x="659.6" y="36.7" fill="#222" stroke="none" font-size="2.7" text-anchor="middle" font-weight="700">H6</text>
<circle cx="659.6" cy="40.2" r="1.55" fill="#fff" stroke-width="1.01"/>
<text x="667.5" y="35.2" fill="#222" stroke="none" font-size="2.7" font-weight="700">FUN</text>
<text x="681.8" y="35.2" fill="#222" stroke="none" font-size="2.7" font-weight="700">FUR</text>
<rect x="655.2" y="51.5" width="37.2" height="25.7" rx="2.4" fill="#fff" stroke-width="1.08"/>
<text x="629.9" y="57.9" fill="#222" stroke="none" font-size="2.2" text-anchor="middle" font-weight="700">N</text>
<text x="648.9" y="57.9" fill="#222" stroke="none" font-size="2.2" text-anchor="middle" font-weight="700">R</text>
<line x1="629.9" y1="59.1" x2="629.9" y2="63.98" stroke-width="0.74"/>
<line x1="628.79" y1="63.13" x2="631" y2="65.17" stroke-width="0.68"/>
<line x1="628.79" y1="65.17" x2="631" y2="63.13" stroke-width="0.68"/>
<line x1="648.9" y1="59.1" x2="648.9" y2="63.98" stroke-width="0.74"/>
<line x1="647.79" y1="63.13" x2="650" y2="65.17" stroke-width="0.68"/>
<line x1="647.79" y1="65.17" x2="650" y2="63.13" stroke-width="0.68"/>
<path d="M629.4 67.3 V70.3 Q629.4 71.3 630.4 71.3 H648.1 Q649.1 71.3 649.1 70.3 V68.66" fill="none" stroke-width="0.94"/>
<line x1="629.4" y1="67.3" x2="647.37" y2="67.3" stroke-width="1.01"/>
<line x1="626.33" y1="64.58" x2="629.5" y2="68.49" stroke-width="0.81"/>
<line x1="645.25" y1="65" x2="649.1" y2="68.83" stroke-width="0.81"/>
<rect x="637.11" y="66.28" width="1.87" height="1.27" rx="0.4" fill="#111" stroke-width="0.14"/>
<line x1="639.14" y1="71.3" x2="639.14" y2="72.74" stroke-width="0.68"/>
<text x="674" y="84.2" fill="#111" stroke="none" font-size="2.75" text-anchor="middle" font-weight="700">双电源自动切换开关电器</text>
<path d="M638.4 115.2 A18.8 18.8 0 0 1 676 115.2" fill="none" stroke-width="3.2" stroke="#111"/>
<path d="M655.23 96.5 A18.8 18.8 0 0 1 659.17 96.5" fill="none" stroke-width="0.81" stroke="#fff"/>
<path d="M642.8 103.12 A18.8 18.8 0 0 1 648.37 98.6" fill="none" stroke-width="0.81" stroke="#fff"/>
<path d="M666.03 98.6 A18.8 18.8 0 0 1 671.6 103.12" fill="none" stroke-width="0.81" stroke="#fff"/>
<circle cx="657.2" cy="115.2" r="5" fill="#fff" stroke-width="0.94"/>
<text x="657.2" y="93.2" fill="#222" stroke="none" font-size="3" text-anchor="middle" font-weight="700">分</text>
<text x="639" y="102.7" fill="#222" stroke="none" font-size="3" text-anchor="end" font-weight="700">N合</text>
<text x="678.6" y="102.7" fill="#222" stroke="none" font-size="3" font-weight="700">R合</text>
<rect x="640" y="132.4" width="34" height="15.2" rx="1.2" fill="#fff" stroke-width="0.94"/>
<rect x="642.89" y="134.68" width="28.22" height="10.94" fill="#fff" stroke-width="1.22"/>
<rect x="647.31" y="138.33" width="20.4" height="4.41" fill="#fff" stroke-width="0.81"/>
<rect x="647.31" y="138.33" width="6.12" height="4.41" fill="#999" stroke-width="0.68"/>
<line x1="649.35" y1="138.33" x2="649.35" y2="142.74" stroke-width="0.54" stroke="#fff"/>
<line x1="651.39" y1="138.33" x2="651.39" y2="142.74" stroke-width="0.54" stroke="#fff"/>
<text x="646.8" y="129.34" fill="#222" stroke="none" font-size="2.6" text-anchor="end" font-weight="700">自动</text>
<line x1="648.84" y1="128.4" x2="664.82" y2="128.4" stroke-width="0.68"/>
<text x="667.2" y="129.34" fill="#222" stroke="none" font-size="2.6" font-weight="700">手动</text>
<line x1="791.2" y1="160.7" x2="791.2" y2="197" stroke-width="0.68"/>
<line x1="877.8" y1="161.6" x2="877.8" y2="197" stroke-width="0.68"/>
<line x1="881.8" y1="147" x2="881.8" y2="197" stroke-width="0.68"/>
<line x1="791.2" y1="192.9" x2="877.8" y2="192.9" stroke-width="0.81"/>
<polygon points="791.2,192.9 796.2,191.7 796.2,194.1" fill="#1c1c1c" stroke-width="0.27"/>
<polygon points="877.8,192.9 872.8,191.7 872.8,194.1" fill="#1c1c1c" stroke-width="0.27"/>
<line x1="881.8" y1="192.9" x2="900" y2="192.9" stroke-width="0.81"/>
<polygon points="881.8,192.9 886.8,191.7 886.8,194.1" fill="#1c1c1c" stroke-width="0.27"/>
<text x="836.7" y="188.6" fill="#1a1a1a" stroke="none" font-size="12.5" class="d" text-anchor="middle">H</text>
<text x="895.4" y="188.6" fill="#1a1a1a" stroke="none" font-size="12.5" class="d" text-anchor="middle">6</text>
<rect x="804.5" y="33" width="73.3" height="128.6" fill="#fff" stroke-width="0.94"/>
<rect x="791.2" y="30.8" width="13.3" height="129.9" fill="#fff" stroke-width="1.08"/>
<line x1="865.4" y1="33" x2="865.4" y2="161.6" stroke-width="0.81"/>
<rect x="877.8" y="140.7" width="4.6" height="6.3" fill="#fff" stroke-width="0.81"/>
<circle cx="870.7" cy="50.3" r="2.4" fill="#fff" stroke-width="0.68"/>
<line x1="869.02" y1="50.3" x2="872.38" y2="50.3" stroke-width="0.68"/>
<line x1="870.7" y1="48.62" x2="870.7" y2="51.98" stroke-width="0.68"/>
<circle cx="870.7" cy="154" r="2.4" fill="#999" stroke-width="0.81"/>
<polyline points="804.45,54.17 848.62,54.17 848.62,66.54 854.81,66.54 854.81,146.04 848.62,146.04 848.62,159.82 804.45,159.82" fill="#fff" stroke-width="0.94"/>
<polyline points="854.81,71.84 857.46,71.84 857.46,77.14 860.99,77.14 860.99,123.07 857.46,123.07 857.46,140.74 854.81,140.74" fill="#fff" stroke-width="0.81"/>
<line x1="857.46" y1="77.14" x2="857.46" y2="123.07" stroke-width="0.68"/>
<rect x="805" y="47.9" width="5.5" height="12.5" fill="#fff" stroke-width="0.81"/>
<rect x="810.5" y="44.9" width="6.5" height="17.3" fill="#fff" stroke-width="0.81"/>
<ellipse cx="820" cy="48.6" rx="2.9" ry="1.75" fill="#555" stroke-width="0.5"/>
<ellipse cx="820" cy="52.2" rx="2.9" ry="1.75" fill="#555" stroke-width="0.5"/>
<ellipse cx="820" cy="55.8" rx="2.9" ry="1.75" fill="#555" stroke-width="0.5"/>
<ellipse cx="820" cy="59.4" rx="2.9" ry="1.75" fill="#555" stroke-width="0.5"/>
<path d="M806.9 65.8 H805.1 V106.3 H806.9" fill="none" stroke-width="0.81"/>
<rect x="806.9" y="69.3" width="9.6" height="33.4" fill="#fff" stroke-width="0.94"/>
<line x1="811.1" y1="69.3" x2="811.1" y2="102.7" stroke-width="0.68"/>
<line x1="806.9" y1="73.47" x2="816.5" y2="73.47" stroke-width="0.68"/>
<line x1="806.9" y1="77.65" x2="816.5" y2="77.65" stroke-width="0.68"/>
<line x1="806.9" y1="81.82" x2="816.5" y2="81.82" stroke-width="0.68"/>
<line x1="806.9" y1="86" x2="816.5" y2="86" stroke-width="0.68"/>
<line x1="806.9" y1="90.17" x2="816.5" y2="90.17" stroke-width="0.68"/>
<line x1="806.9" y1="94.35" x2="816.5" y2="94.35" stroke-width="0.68"/>
<line x1="806.9" y1="98.52" x2="816.5" y2="98.52" stroke-width="0.68"/>
<line x1="801.8" y1="66.9" x2="808" y2="66.9" stroke-width="0.68"/>
<line x1="801.8" y1="104.5" x2="808" y2="104.5" stroke-width="0.68"/>
<path d="M806.9 69.3 V66 Q808.6 65.6 809.4 67.6" fill="none" stroke-width="0.68"/>
<path d="M806.9 102.7 V106 Q809 106.3 810 104" fill="none" stroke-width="0.68"/>
<rect x="863.3" y="65.7" width="4.4" height="81.2" fill="#fff" stroke-width="0.94"/>
<line x1="865.4" y1="69" x2="865.4" y2="94" stroke-width="0.68"/>
<rect x="864.8" y="69.5" width="1.6" height="3.5" fill="#fff" stroke-width="0.54"/>
<rect x="864.8" y="90" width="2" height="6" fill="#fff" stroke-width="0.54"/>
<rect x="861.2" y="97.5" width="3.4" height="25.5" fill="#888" stroke-width="0.68"/>
<line x1="861.4" y1="99" x2="864.4" y2="99" stroke-width="0.54" stroke="#eee"/>
<line x1="861.4" y1="102.1" x2="864.4" y2="102.1" stroke-width="0.54" stroke="#eee"/>
<line x1="861.4" y1="105.2" x2="864.4" y2="105.2" stroke-width="0.54" stroke="#eee"/>
<line x1="861.4" y1="108.3" x2="864.4" y2="108.3" stroke-width="0.54" stroke="#eee"/>
<line x1="861.4" y1="111.4" x2="864.4" y2="111.4" stroke-width="0.54" stroke="#eee"/>
<line x1="861.4" y1="114.5" x2="864.4" y2="114.5" stroke-width="0.54" stroke="#eee"/>
<line x1="861.4" y1="117.6" x2="864.4" y2="117.6" stroke-width="0.54" stroke="#eee"/>
<line x1="861.4" y1="120.7" x2="864.4" y2="120.7" stroke-width="0.54" stroke="#eee"/>
<rect x="864.6" y="100" width="3.1" height="43" fill="#fff" stroke-width="0.81"/>
<line x1="866.2" y1="123" x2="866.2" y2="143" stroke-width="0.68"/>
<path d="M861 106.3 H870.5 A3.1 3.1 0 0 1 870.5 112.5 H861 Z" fill="#fff" stroke-width="0.94"/>
<rect x="805" y="143.6" width="3" height="5" fill="#ccc" stroke-width="0.68"/>
<rect x="808" y="142" width="3.6" height="8.2" fill="#888" stroke-width="0.68"/>
<rect x="811.6" y="143.6" width="2.8" height="5" fill="#fff" stroke-width="0.68"/>
<rect x="814.4" y="141.6" width="4.6" height="9" rx="1" fill="#fff" stroke-width="0.81"/>
<line x1="814.4" y1="144.4" x2="819" y2="144.4" stroke-width="0.54"/>
<line x1="814.4" y1="147.8" x2="819" y2="147.8" stroke-width="0.54"/>
<rect x="819" y="144" width="3.7" height="4.2" rx="0.8" fill="#fff" stroke-width="0.68"/>
<line x1="859.2" y1="158.5" x2="859.2" y2="163" stroke-width="0.68"/>
<polygon points="859.2,161.2 861,163 859.2,164.8 857.4,163" fill="#1c1c1c" stroke-width="0.27"/>
<rect x="40.4" y="399.4" width="257.2" height="124" fill="#fff" stroke-width="1.08"/>
<text x="7.2" y="385.7" fill="#1a1a1a" stroke="none" font-size="11.8" class="d">4</text>
<text x="14.2" y="385.5" fill="#1a1a1a" stroke="none" font-size="10.5" class="d">–</text>
<text x="26.2" y="385.9" fill="#1a1a1a" stroke="none" font-size="11.4" class="d" text-anchor="middle">ϕ</text>
<text x="31.8" y="385.7" fill="#1a1a1a" stroke="none" font-size="11.8" class="d">D</text>
<polyline points="9,389.6 34,389.6 47.8,407.8" fill="none" stroke-width="0.84"/>
<line x1="7" y1="399.4" x2="40.4" y2="399.4" stroke-width="0.68"/>
<line x1="7" y1="523.4" x2="40.4" y2="523.4" stroke-width="0.68"/>
<line x1="11" y1="399.4" x2="11" y2="523.4" stroke-width="0.81"/>
<polygon points="11,399.4 9.8,404.4 12.2,404.4" fill="#1c1c1c" stroke-width="0.27"/>
<polygon points="11,523.4 9.8,518.4 12.2,518.4" fill="#1c1c1c" stroke-width="0.27"/>
<text x="8.6" y="460" fill="#1a1a1a" stroke="none" font-size="12" class="d" text-anchor="middle" transform="rotate(-90 8.6 460)">W</text>
<line x1="23" y1="409.3" x2="44" y2="409.3" stroke-width="0.68"/>
<line x1="23" y1="514.4" x2="44" y2="514.4" stroke-width="0.68"/>
<line x1="27.4" y1="409.3" x2="27.4" y2="514.4" stroke-width="0.81"/>
<polygon points="27.4,409.3 26.2,414.3 28.6,414.3" fill="#1c1c1c" stroke-width="0.27"/>
<polygon points="27.4,514.4 26.2,509.4 28.6,509.4" fill="#1c1c1c" stroke-width="0.27"/>
<text x="24.6" y="459" fill="#1a1a1a" stroke="none" font-size="11.8" class="d" text-anchor="middle" transform="rotate(-90 24.6 459)" textLength="16" lengthAdjust="spacingAndGlyphs">W1</text>
<circle cx="49" cy="409.3" r="2" fill="#ddd" stroke-width="0.81"/>
<line x1="43.4" y1="409.3" x2="54.6" y2="409.3" stroke-width="0.68"/>
<line x1="49" y1="403.7" x2="49" y2="414.9" stroke-width="0.68"/>
<circle cx="287.2" cy="409.5" r="2" fill="#ddd" stroke-width="0.81"/>
<line x1="281.6" y1="409.5" x2="292.8" y2="409.5" stroke-width="0.68"/>
<line x1="287.2" y1="403.9" x2="287.2" y2="415.1" stroke-width="0.68"/>
<circle cx="49.6" cy="514.4" r="2" fill="#ddd" stroke-width="0.81"/>
<line x1="44" y1="514.4" x2="55.2" y2="514.4" stroke-width="0.68"/>
<line x1="49.6" y1="508.8" x2="49.6" y2="520" stroke-width="0.68"/>
<circle cx="287.6" cy="514.4" r="2" fill="#ddd" stroke-width="0.81"/>
<line x1="282" y1="514.4" x2="293.2" y2="514.4" stroke-width="0.68"/>
<line x1="287.6" y1="508.8" x2="287.6" y2="520" stroke-width="0.68"/>
<line x1="49.6" y1="514.4" x2="49.6" y2="538" stroke-width="0.68"/>
<line x1="287.6" y1="514.4" x2="287.6" y2="538" stroke-width="0.68"/>
<line x1="40.4" y1="523.4" x2="40.4" y2="549.6" stroke-width="0.68"/>
<line x1="297.6" y1="523.4" x2="297.6" y2="549.6" stroke-width="0.68"/>
<line x1="49.6" y1="535.9" x2="287.6" y2="535.9" stroke-width="0.81"/>
<polygon points="49.6,535.9 54.6,534.7 54.6,537.1" fill="#1c1c1c" stroke-width="0.27"/>
<polygon points="287.6,535.9 282.6,534.7 282.6,537.1" fill="#1c1c1c" stroke-width="0.27"/>
<line x1="40.4" y1="548.4" x2="297.6" y2="548.4" stroke-width="0.81"/>
<polygon points="40.4,548.4 45.4,547.2 45.4,549.6" fill="#1c1c1c" stroke-width="0.27"/>
<polygon points="297.6,548.4 292.6,547.2 292.6,549.6" fill="#1c1c1c" stroke-width="0.27"/>
<text x="171.1" y="534" fill="#1a1a1a" stroke="none" font-size="11.7" class="d" text-anchor="middle" letter-spacing="-0.5">L1</text>
<text x="170" y="546.7" fill="#1a1a1a" stroke="none" font-size="11.7" class="d" text-anchor="middle">L</text>
<circle cx="65" cy="409" r="1.4" fill="#fff" stroke-width="0.81"/>
<circle cx="49.2" cy="436" r="6.4" fill="#fff" stroke-width="1.08"/>
<circle cx="49.2" cy="436" r="3.6" fill="#fff" stroke-width="1.08"/>
<circle cx="49.2" cy="480.6" r="6.4" fill="#fff" stroke-width="1.08"/>
<circle cx="49.2" cy="480.6" r="3.6" fill="#fff" stroke-width="1.08"/>
<line x1="60.9" y1="499.2" x2="60.9" y2="505.7" stroke-width="0.94"/>
<line x1="57.2" y1="502.1" x2="64.6" y2="502.1" stroke-width="0.94"/>
<line x1="59.5" y1="505.2" x2="62.3" y2="505.2" stroke-width="0.68"/>
<circle cx="60.4" cy="514.1" r="4" fill="#fff" stroke-width="1.08"/>
<circle cx="60.4" cy="514.1" r="2" fill="#fff" stroke-width="1.08"/>
<text x="145.8" y="417.4" fill="#1a1a1a" stroke="none" font-size="7.9" text-anchor="middle">常用电源</text>
<text x="262.2" y="417.4" fill="#1a1a1a" stroke="none" font-size="7.9" text-anchor="middle">备用电源</text>
<circle cx="131.4" cy="423.8" r="2.35" fill="#fff" stroke-width="0.84" stroke="#2a2a2a"/>
<circle cx="131.4" cy="423.8" r="0.87" fill="#fff" stroke-width="0.41" stroke="#444"/>
<line x1="130.98" y1="423.8" x2="131.82" y2="423.8" stroke-width="0.3" stroke="#555"/>
<line x1="131.4" y1="423.38" x2="131.4" y2="424.22" stroke-width="0.3" stroke="#555"/>
<circle cx="142" cy="423.8" r="2.35" fill="#fff" stroke-width="0.84" stroke="#2a2a2a"/>
<circle cx="142" cy="423.8" r="0.87" fill="#fff" stroke-width="0.41" stroke="#444"/>
<line x1="141.58" y1="423.8" x2="142.42" y2="423.8" stroke-width="0.3" stroke="#555"/>
<line x1="142" y1="423.38" x2="142" y2="424.22" stroke-width="0.3" stroke="#555"/>
<circle cx="152.8" cy="423.8" r="2.35" fill="#fff" stroke-width="0.84" stroke="#2a2a2a"/>
<circle cx="152.8" cy="423.8" r="0.87" fill="#fff" stroke-width="0.41" stroke="#444"/>
<line x1="152.38" y1="423.8" x2="153.22" y2="423.8" stroke-width="0.3" stroke="#555"/>
<line x1="152.8" y1="423.38" x2="152.8" y2="424.22" stroke-width="0.3" stroke="#555"/>
<circle cx="163.6" cy="423.8" r="2.35" fill="#fff" stroke-width="0.84" stroke="#2a2a2a"/>
<circle cx="163.6" cy="423.8" r="0.87" fill="#fff" stroke-width="0.41" stroke="#444"/>
<line x1="163.18" y1="423.8" x2="164.02" y2="423.8" stroke-width="0.3" stroke="#555"/>
<line x1="163.6" y1="423.38" x2="163.6" y2="424.22" stroke-width="0.3" stroke="#555"/>
<circle cx="245.4" cy="423.8" r="2.35" fill="#fff" stroke-width="0.84" stroke="#2a2a2a"/>
<circle cx="245.4" cy="423.8" r="0.87" fill="#fff" stroke-width="0.41" stroke="#444"/>
<line x1="244.98" y1="423.8" x2="245.82" y2="423.8" stroke-width="0.3" stroke="#555"/>
<line x1="245.4" y1="423.38" x2="245.4" y2="424.22" stroke-width="0.3" stroke="#555"/>
<circle cx="256.2" cy="423.8" r="2.35" fill="#fff" stroke-width="0.84" stroke="#2a2a2a"/>
<circle cx="256.2" cy="423.8" r="0.87" fill="#fff" stroke-width="0.41" stroke="#444"/>
<line x1="255.78" y1="423.8" x2="256.62" y2="423.8" stroke-width="0.3" stroke="#555"/>
<line x1="256.2" y1="423.38" x2="256.2" y2="424.22" stroke-width="0.3" stroke="#555"/>
<circle cx="267" cy="423.8" r="2.35" fill="#fff" stroke-width="0.84" stroke="#2a2a2a"/>
<circle cx="267" cy="423.8" r="0.87" fill="#fff" stroke-width="0.41" stroke="#444"/>
<line x1="266.58" y1="423.8" x2="267.42" y2="423.8" stroke-width="0.3" stroke="#555"/>
<line x1="267" y1="423.38" x2="267" y2="424.22" stroke-width="0.3" stroke="#555"/>
<circle cx="277.6" cy="423.8" r="2.35" fill="#fff" stroke-width="0.84" stroke="#2a2a2a"/>
<circle cx="277.6" cy="423.8" r="0.87" fill="#fff" stroke-width="0.41" stroke="#444"/>
<line x1="277.18" y1="423.8" x2="278.02" y2="423.8" stroke-width="0.3" stroke="#555"/>
<line x1="277.6" y1="423.38" x2="277.6" y2="424.22" stroke-width="0.3" stroke="#555"/>
<path d="M76.1 407.5 V402 Q76.1 399.6 78.6 399.6 H106.4 Q108.9 399.6 108.9 402 V407.5" fill="#fff" stroke-width="0.94"/>
<path d="M76.6 515.5 V520.8 Q76.6 523.2 79.1 523.2 H106.6 Q109.1 523.2 109.1 520.8 V515.5" fill="#fff" stroke-width="0.94"/>
<circle cx="80.5" cy="404" r="2.6" fill="#222" stroke-width="0.41"/>
<line x1="79.1" y1="402.6" x2="81.9" y2="405.4" stroke-width="0.54" stroke="#999"/>
<line x1="79.1" y1="405.4" x2="81.9" y2="402.6" stroke-width="0.54" stroke="#999"/>
<circle cx="104.4" cy="404" r="2.6" fill="#222" stroke-width="0.41"/>
<line x1="103" y1="402.6" x2="105.8" y2="405.4" stroke-width="0.54" stroke="#999"/>
<line x1="103" y1="405.4" x2="105.8" y2="402.6" stroke-width="0.54" stroke="#999"/>
<circle cx="80.9" cy="518.6" r="2.6" fill="#222" stroke-width="0.41"/>
<line x1="79.5" y1="517.2" x2="82.3" y2="520" stroke-width="0.54" stroke="#999"/>
<line x1="79.5" y1="520" x2="82.3" y2="517.2" stroke-width="0.54" stroke="#999"/>
<circle cx="104.7" cy="518.6" r="2.6" fill="#222" stroke-width="0.41"/>
<line x1="103.3" y1="517.2" x2="106.1" y2="520" stroke-width="0.54" stroke="#999"/>
<line x1="103.3" y1="520" x2="106.1" y2="517.2" stroke-width="0.54" stroke="#999"/>
<rect x="69.5" y="406.9" width="46.3" height="109.1" rx="1.6" fill="#fff" stroke-width="1.08"/>
<rect x="71.5" y="409" width="42.3" height="105.2" rx="0.6" fill="#fff" stroke-width="0.94"/>
<rect x="71.5" y="424.2" width="42.3" height="9.2" fill="#fff" stroke-width="1.22"/>
<rect x="73" y="425.2" width="11.4" height="3.4" fill="#333" stroke-width="0.41"/>
<rect x="73" y="429.2" width="11.4" height="3.4" fill="#333" stroke-width="0.41"/>
<text x="78.7" y="427.9" fill="#ddd" stroke="none" font-size="2.6" text-anchor="middle" font-weight="700">SET1</text>
<text x="78.7" y="431.9" fill="#ddd" stroke="none" font-size="2.6" text-anchor="middle" font-weight="700">SET2</text>
<rect x="84.8" y="425.2" width="23.5" height="7.4" fill="#fff" stroke-width="0.81"/>
<text x="88" y="431.7" fill="#333" stroke="none" font-size="7" text-anchor="middle">8</text>
<text x="93.8" y="431.7" fill="#333" stroke="none" font-size="7" text-anchor="middle">8</text>
<text x="99.6" y="431.7" fill="#333" stroke="none" font-size="7" text-anchor="middle">8</text>
<text x="105.4" y="431.7" fill="#333" stroke="none" font-size="7" text-anchor="middle">8</text>
<rect x="73.4" y="435.3" width="10.4" height="4.1" rx="0.8" fill="#fff" stroke-width="1.35"/>
<text x="78.6" y="438.5" fill="#333" stroke="none" font-size="2.6" text-anchor="middle" font-weight="700">AUTO</text>
<rect x="88.9" y="439.1" width="5.2" height="6" fill="#fff" stroke-width="0.94"/>
<line x1="91.5" y1="445.1" x2="91.5" y2="462.7" stroke-width="0.81"/>
<circle cx="91.5" cy="451" r="1" fill="#222" stroke-width="0.41"/>
<circle cx="91.5" cy="458" r="1" fill="#fff" stroke-width="0.68"/>
<rect x="101.3" y="439.1" width="5.2" height="6" fill="#fff" stroke-width="0.94"/>
<line x1="103.9" y1="445.1" x2="103.9" y2="462.7" stroke-width="0.81"/>
<circle cx="103.9" cy="451" r="1" fill="#222" stroke-width="0.41"/>
<circle cx="103.9" cy="458" r="1" fill="#fff" stroke-width="0.68"/>
<text x="91.5" y="444.2" fill="#333" stroke="none" font-size="4.4" text-anchor="middle" font-weight="700">N</text>
<text x="103.9" y="444.2" fill="#333" stroke="none" font-size="4.4" text-anchor="middle" font-weight="700">R</text>
<line x1="88.6" y1="451" x2="106.8" y2="451" stroke-width="0.81"/>
<line x1="88.6" y1="458" x2="90.5" y2="458" stroke-width="0.68"/>
<line x1="104.9" y1="458" x2="106.8" y2="458" stroke-width="0.68"/>
<polygon points="96.4,450.2 98.8,450.2 97.6,452.4" fill="#333" stroke-width="0.41"/>
<line x1="91.5" y1="462.7" x2="103.9" y2="462.7" stroke-width="0.81"/>
<line x1="97.6" y1="462.7" x2="97.6" y2="464.2" stroke-width="0.68"/>
<rect x="95.2" y="464.2" width="4.8" height="2.3" rx="0.5" fill="#fff" stroke-width="0.81"/>
<text x="87.6" y="451.9" fill="#333" stroke="none" font-size="2.2" text-anchor="end" font-weight="700">NA</text>
<text x="107.8" y="451.9" fill="#333" stroke="none" font-size="2.2" font-weight="700">RA</text>
<text x="87.6" y="458.9" fill="#333" stroke="none" font-size="2.2" text-anchor="end" font-weight="700">NB</text>
<text x="107.8" y="458.9" fill="#333" stroke="none" font-size="2.2" font-weight="700">RB</text>
<rect x="73.7" y="449.9" width="11" height="4.7" rx="1" fill="#fff" stroke-width="1.35"/>
<text x="77.8" y="453.4" fill="#333" stroke="none" font-size="2.3" text-anchor="middle" font-weight="700">N–ON</text>
<circle cx="82.4" cy="452.25" r="1.2" fill="#fff" stroke-width="0.81"/>
<rect x="73.7" y="456" width="11" height="4.6" rx="1" fill="#fff" stroke-width="1.35"/>
<text x="77.8" y="459.4" fill="#333" stroke="none" font-size="2.3" text-anchor="middle" font-weight="700">OFF</text>
<circle cx="82.4" cy="458.3" r="1.2" fill="#fff" stroke-width="0.81"/>
<rect x="73.7" y="462.1" width="11" height="4.8" rx="1" fill="#fff" stroke-width="1.35"/>
<text x="77.8" y="465.7" fill="#333" stroke="none" font-size="2.3" text-anchor="middle" font-weight="700">R–ON</text>
<circle cx="82.4" cy="464.5" r="1.2" fill="#fff" stroke-width="0.81"/>
<rect x="76.3" y="469.5" width="33.2" height="21.5" fill="#fff" stroke-width="1.22"/>
<rect x="86.8" y="469.5" width="22.7" height="4.2" fill="#333" stroke-width="0.54"/>
<text x="91" y="472.9" fill="#ddd" stroke="none" font-size="2.4" text-anchor="middle" font-weight="700">UP</text>
<text x="98.4" y="472.9" fill="#ddd" stroke="none" font-size="2.4" text-anchor="middle" font-weight="700">DOWN</text>
<text x="105.9" y="472.9" fill="#ddd" stroke="none" font-size="2.4" text-anchor="middle" font-weight="700">ENT</text>
<line x1="86.8" y1="469.5" x2="86.8" y2="491" stroke-width="1.08"/>
<rect x="87.7" y="474.3" width="6.6" height="6.8" fill="#fff" stroke-width="1.22"/>
<rect x="95.2" y="474.3" width="6.5" height="6.8" fill="#fff" stroke-width="1.22"/>
<rect x="102.7" y="474.3" width="6.4" height="6.8" fill="#fff" stroke-width="1.22"/>
<polygon points="91,475.6 93.2,479.8 88.8,479.8" fill="#222" stroke-width="0.27"/>
<polygon points="98.45,479.8 100.65,475.6 96.25,475.6" fill="#222" stroke-width="0.27"/>
<polyline points="107.6,476.2 107.6,478.4 104.2,478.4" fill="none" stroke-width="0.68"/>
<rect x="86.8" y="482.6" width="22.7" height="8.4" fill="#fff" stroke-width="1.35"/>
<circle cx="90.8" cy="486.7" r="2.9" fill="#222" stroke-width="0.41"/>
<line x1="89.2" y1="488.3" x2="92.4" y2="485.1" stroke-width="0.81" stroke="#fff"/>
<circle cx="96.4" cy="486.7" r="0.6" fill="#222" stroke-width="0.27"/>
<circle cx="100.5" cy="486.7" r="0.6" fill="#222" stroke-width="0.27"/>
<circle cx="106.3" cy="486.7" r="2.8" fill="#222" stroke-width="0.41"/>
<line x1="104.7" y1="486.7" x2="107.9" y2="486.7" stroke-width="0.94" stroke="#fff"/>
<polygon points="81.5,470.4 83.6,474.2 79.4,474.2" fill="#fff" stroke-width="0.81"/>
<text x="81.5" y="473.9" fill="#222" stroke="none" font-size="2.8" text-anchor="middle" font-weight="700">!</text>
<text x="81.5" y="477.3" fill="#333" stroke="none" font-size="2.6" text-anchor="middle" font-weight="700">注意</text>
<text x="81.5" y="480.3" fill="#333" stroke="none" font-size="2.6" text-anchor="middle" font-weight="700">安全</text>
<rect x="77.9" y="482.6" width="7.7" height="3.3" rx="0.6" fill="#fff" stroke-width="1.08"/>
<text x="81.7" y="485.2" fill="#333" stroke="none" font-size="2.3" text-anchor="middle" font-weight="700">RST</text>
<text x="82.6" y="489.9" fill="#333" stroke="none" font-size="2.3" text-anchor="middle" font-weight="700">I·O</text>
<circle cx="85.4" cy="489.1" r="0.8" fill="#fff" stroke-width="0.54"/>
<line x1="71.5" y1="495.8" x2="113.8" y2="495.8" stroke-width="0.81"/>
<line x1="71.5" y1="500.5" x2="113.8" y2="500.5" stroke-width="0.81"/>
<rect x="80.3" y="495.8" width="9.3" height="4.7" fill="#fff" stroke-width="0.81"/>
<rect x="96.4" y="495.8" width="8.9" height="4.7" fill="#fff" stroke-width="0.81"/>
<text x="85" y="499.2" fill="#222" stroke="none" font-size="2.4" text-anchor="middle" font-weight="700">AUTO</text>
<text x="100.9" y="499.2" fill="#222" stroke="none" font-size="2.4" text-anchor="middle" font-weight="700">HAND</text>
<circle cx="84.2" cy="506.2" r="4.7" fill="#fff" stroke-width="0.94"/>
<circle cx="103.5" cy="506.2" r="4.7" fill="#fff" stroke-width="0.94"/>
<rect x="117.4" y="441.5" width="9" height="15.9" fill="#fff" stroke-width="0.94"/>
<rect x="118.6" y="442.6" width="6.8" height="13.8" fill="#fff" stroke-width="0.54"/>
<circle cx="122" cy="444.9" r="2.8" fill="#262626" stroke-width="0.54"/>
<line x1="120.15" y1="444.9" x2="123.85" y2="444.9" stroke-width="0.57" stroke="#e8e8e8"/>
<line x1="122" y1="443.05" x2="122" y2="446.75" stroke-width="0.57" stroke="#e8e8e8"/>
<circle cx="122" cy="453.7" r="2.8" fill="#262626" stroke-width="0.54"/>
<line x1="120.15" y1="453.7" x2="123.85" y2="453.7" stroke-width="0.57" stroke="#e8e8e8"/>
<line x1="122" y1="451.85" x2="122" y2="455.55" stroke-width="0.57" stroke="#e8e8e8"/>
<rect x="120.5" y="457.4" width="6.8" height="22.4" fill="#fff" stroke-width="0.81"/>
<line x1="120.5" y1="460" x2="127.3" y2="460" stroke-width="0.68"/>
<line x1="120.5" y1="476" x2="127.3" y2="476" stroke-width="0.68"/>
<circle cx="125.6" cy="468.3" r="1.7" fill="#fff" stroke-width="0.68"/>
<rect x="117.5" y="480.4" width="9.3" height="9.3" rx="1.4" fill="#fff" stroke-width="0.94"/>
<circle cx="121.8" cy="485.1" r="3" fill="#262626" stroke-width="0.54"/>
<line x1="119.82" y1="485.1" x2="123.78" y2="485.1" stroke-width="0.57" stroke="#e8e8e8"/>
<line x1="121.8" y1="483.12" x2="121.8" y2="487.08" stroke-width="0.57" stroke="#e8e8e8"/>
<polygon points="126.4,441.5 158.8,441.5 158.8,444.4 169.9,444.4 169.9,454.7 161.3,461.1 127,461.1 127,441.5" fill="#fff" stroke-width="0.94"/>
<line x1="126.4" y1="444.4" x2="158.8" y2="444.4" stroke-width="0.81"/>
<line x1="127" y1="454.7" x2="169.9" y2="454.7" stroke-width="0.81"/>
<line x1="137.2" y1="444.4" x2="137.2" y2="461.1" stroke-width="0.81"/>
<line x1="148.1" y1="444.4" x2="148.1" y2="461.1" stroke-width="0.81"/>
<line x1="158.8" y1="444.4" x2="158.8" y2="461.1" stroke-width="0.81"/>
<polyline points="126.7,487.6 126.7,492.2 158.8,492.2 158.8,487.6" fill="#fff" stroke-width="0.81"/>
<line x1="137.2" y1="487.6" x2="137.2" y2="492.2" stroke-width="0.68"/>
<line x1="148.1" y1="487.6" x2="148.1" y2="492.2" stroke-width="0.68"/>
<path d="M160.9 487.6 Q166 488.6 169.9 494.6" fill="none" stroke-width="0.81"/>
<rect x="127.5" y="461.1" width="33.4" height="26.5" fill="#fff" stroke-width="1.08"/>
<path d="M138.8 492.2 V499.8 Q138.8 501.6 140.6 501.6 H155.6 Q157.4 501.6 157.4 499.8 V492.2" fill="#fff" stroke-width="0.94"/>
<circle cx="142.7" cy="496.7" r="3.1" fill="#262626" stroke-width="0.54"/>
<line x1="140.65" y1="496.7" x2="144.75" y2="496.7" stroke-width="0.57" stroke="#e8e8e8"/>
<line x1="142.7" y1="494.65" x2="142.7" y2="498.75" stroke-width="0.57" stroke="#e8e8e8"/>
<circle cx="153.4" cy="496.7" r="3.1" fill="#262626" stroke-width="0.54"/>
<line x1="151.35" y1="496.7" x2="155.45" y2="496.7" stroke-width="0.57" stroke="#e8e8e8"/>
<line x1="153.4" y1="494.65" x2="153.4" y2="498.75" stroke-width="0.57" stroke="#e8e8e8"/>
<rect x="284.4" y="441.5" width="9" height="15.9" fill="#fff" stroke-width="0.94"/>
<rect x="285.4" y="442.6" width="6.8" height="13.8" fill="#fff" stroke-width="0.54"/>
<circle cx="288.8" cy="444.9" r="2.8" fill="#262626" stroke-width="0.54"/>
<line x1="286.95" y1="444.9" x2="290.65" y2="444.9" stroke-width="0.57" stroke="#e8e8e8"/>
<line x1="288.8" y1="443.05" x2="288.8" y2="446.75" stroke-width="0.57" stroke="#e8e8e8"/>
<circle cx="288.8" cy="453.7" r="2.8" fill="#262626" stroke-width="0.54"/>
<line x1="286.95" y1="453.7" x2="290.65" y2="453.7" stroke-width="0.57" stroke="#e8e8e8"/>
<line x1="288.8" y1="451.85" x2="288.8" y2="455.55" stroke-width="0.57" stroke="#e8e8e8"/>
<rect x="283.5" y="457.4" width="6.8" height="22.4" fill="#fff" stroke-width="0.81"/>
<line x1="290.3" y1="460" x2="283.5" y2="460" stroke-width="0.68"/>
<line x1="290.3" y1="476" x2="283.5" y2="476" stroke-width="0.68"/>
<circle cx="285.2" cy="468.3" r="1.7" fill="#fff" stroke-width="0.68"/>
<rect x="284" y="480.4" width="9.3" height="9.3" rx="1.4" fill="#fff" stroke-width="0.94"/>
<circle cx="289" cy="485.1" r="3" fill="#262626" stroke-width="0.54"/>
<line x1="287.02" y1="485.1" x2="290.98" y2="485.1" stroke-width="0.57" stroke="#e8e8e8"/>
<line x1="289" y1="483.12" x2="289" y2="487.08" stroke-width="0.57" stroke="#e8e8e8"/>
<polygon points="284.4,441.5 252,441.5 252,444.4 240.9,444.4 240.9,454.7 249.5,461.1 283.8,461.1 283.8,441.5" fill="#fff" stroke-width="0.94"/>
<line x1="284.4" y1="444.4" x2="252" y2="444.4" stroke-width="0.81"/>
<line x1="283.8" y1="454.7" x2="240.9" y2="454.7" stroke-width="0.81"/>
<line x1="273.6" y1="444.4" x2="273.6" y2="461.1" stroke-width="0.81"/>
<line x1="262.7" y1="444.4" x2="262.7" y2="461.1" stroke-width="0.81"/>
<line x1="252" y1="444.4" x2="252" y2="461.1" stroke-width="0.81"/>
<polyline points="284.1,487.6 284.1,492.2 252,492.2 252,487.6" fill="#fff" stroke-width="0.81"/>
<line x1="273.6" y1="487.6" x2="273.6" y2="492.2" stroke-width="0.68"/>
<line x1="262.7" y1="487.6" x2="262.7" y2="492.2" stroke-width="0.68"/>
<path d="M249.9 487.6 Q244.8 488.6 240.9 494.6" fill="none" stroke-width="0.81"/>
<rect x="249.9" y="461.1" width="33.4" height="26.5" fill="#fff" stroke-width="1.08"/>
<path d="M272 492.2 V499.8 Q272 501.6 270.2 501.6 H255.2 Q253.4 501.6 253.4 499.8 V492.2" fill="#fff" stroke-width="0.94"/>
<circle cx="268.1" cy="496.7" r="3.1" fill="#262626" stroke-width="0.54"/>
<line x1="266.05" y1="496.7" x2="270.15" y2="496.7" stroke-width="0.57" stroke="#e8e8e8"/>
<line x1="268.1" y1="494.65" x2="268.1" y2="498.75" stroke-width="0.57" stroke="#e8e8e8"/>
<circle cx="257.4" cy="496.7" r="3.1" fill="#262626" stroke-width="0.54"/>
<line x1="255.35" y1="496.7" x2="259.45" y2="496.7" stroke-width="0.57" stroke="#e8e8e8"/>
<line x1="257.4" y1="494.65" x2="257.4" y2="498.75" stroke-width="0.57" stroke="#e8e8e8"/>
<rect x="170" y="422.6" width="70.6" height="100.8" rx="1.8" fill="#fff" stroke-width="1.08"/>
<rect x="203.6" y="424.4" width="36" height="25.6" rx="2.2" fill="#fff" stroke-width="1.08"/>
<text x="222.3" y="455.9" fill="#111" stroke="none" font-size="2.95" text-anchor="middle" font-weight="700">双电源自动切换开关电器</text>
<path d="M186.75 484.2 A18.1 18.1 0 0 1 222.95 484.2" fill="none" stroke-width="3" stroke="#111"/>
<path d="M202.96 466.2 A18.1 18.1 0 0 1 206.74 466.2" fill="none" stroke-width="0.81" stroke="#fff"/>
<path d="M190.98 472.57 A18.1 18.1 0 0 1 196.35 468.22" fill="none" stroke-width="0.81" stroke="#fff"/>
<path d="M213.35 468.22 A18.1 18.1 0 0 1 218.72 472.57" fill="none" stroke-width="0.81" stroke="#fff"/>
<circle cx="204.85" cy="484.2" r="4.5" fill="#fff" stroke-width="0.94"/>
<text x="204.85" y="463" fill="#222" stroke="none" font-size="2" text-anchor="middle" font-weight="700">分</text>
<text x="187.85" y="471" fill="#222" stroke="none" font-size="2" text-anchor="end" font-weight="700">N合</text>
<text x="224.25" y="471" fill="#222" stroke="none" font-size="2" font-weight="700">R合</text>
<rect x="190.4" y="500.6" width="31.3" height="14.6" rx="1.2" fill="#fff" stroke-width="0.94"/>
<rect x="193.06" y="502.79" width="25.98" height="10.51" fill="#fff" stroke-width="1.22"/>
<rect x="197.13" y="506.29" width="18.78" height="4.23" fill="#fff" stroke-width="0.81"/>
<rect x="197.13" y="506.29" width="5.63" height="4.23" fill="#999" stroke-width="0.68"/>
<line x1="199.01" y1="506.29" x2="199.01" y2="510.53" stroke-width="0.54" stroke="#fff"/>
<line x1="200.89" y1="506.29" x2="200.89" y2="510.53" stroke-width="0.54" stroke="#fff"/>
<text x="196.66" y="498.12" fill="#222" stroke="none" font-size="2" text-anchor="end" font-weight="700">自动</text>
<line x1="198.54" y1="497.4" x2="213.25" y2="497.4" stroke-width="0.68"/>
<text x="215.44" y="498.12" fill="#222" stroke="none" font-size="2" font-weight="700">手动</text>
<line x1="315.4" y1="517.5" x2="315.4" y2="550" stroke-width="0.68"/>
<line x1="392.6" y1="517.5" x2="392.6" y2="550" stroke-width="0.68"/>
<line x1="396.5" y1="504.7" x2="396.5" y2="550" stroke-width="0.68"/>
<line x1="315.4" y1="547.2" x2="392.6" y2="547.2" stroke-width="0.81"/>
<polygon points="315.4,547.2 320.4,546 320.4,548.4" fill="#1c1c1c" stroke-width="0.27"/>
<polygon points="392.6,547.2 387.6,546 387.6,548.4" fill="#1c1c1c" stroke-width="0.27"/>
<line x1="396.5" y1="547.2" x2="412" y2="547.2" stroke-width="0.81"/>
<polygon points="396.5,547.2 401.5,546 401.5,548.4" fill="#1c1c1c" stroke-width="0.27"/>
<text x="354.6" y="544.6" fill="#1a1a1a" stroke="none" font-size="12" class="d" text-anchor="middle">H</text>
<text x="406.8" y="544.6" fill="#1a1a1a" stroke="none" font-size="12" class="d" text-anchor="middle">6</text>
<rect x="380.2" y="417.7" width="12.4" height="99.8" fill="#fff" stroke-width="0.94"/>
<rect x="326.2" y="397.2" width="2.4" height="5.2" fill="#fff" stroke-width="0.68"/>
<rect x="326.2" y="402.6" width="54" height="114.9" fill="#fff" stroke-width="0.94"/>
<rect x="315.4" y="394.3" width="10.8" height="123.2" fill="#fff" stroke-width="1.08"/>
<rect x="392.6" y="498.9" width="3.9" height="5.8" fill="#fff" stroke-width="0.81"/>
<circle cx="329.8" cy="412.9" r="2.1" fill="#222" stroke-width="0.41"/>
<circle cx="329.8" cy="499.5" r="2.1" fill="#222" stroke-width="0.41"/>
<circle cx="383.4" cy="513.5" r="2.1" fill="#222" stroke-width="0.41"/>
<rect x="333.7" y="411.8" width="7.9" height="36.8" rx="1.6" fill="#fff" stroke-width="0.94"/>
<rect x="346.1" y="411.8" width="7.6" height="34.1" rx="1.6" fill="#fff" stroke-width="0.94"/>
<rect x="333.7" y="456" width="7.9" height="39.2" rx="1.6" fill="#fff" stroke-width="0.94"/>
<rect x="371.8" y="471.7" width="7.4" height="19.2" rx="1.6" fill="#fff" stroke-width="0.94"/>
<line x1="344" y1="509.6" x2="380.2" y2="509.6" stroke-width="0.81"/>
<rect x="326.4" y="505" width="1.8" height="7.2" fill="#fff" stroke-width="0.68"/>
<rect x="328.2" y="505.4" width="3.4" height="6.4" fill="#777" stroke-width="0.68"/>
<line x1="328.2" y1="507.5" x2="331.6" y2="507.5" stroke-width="0.54" stroke="#eee"/>
<line x1="328.2" y1="509.7" x2="331.6" y2="509.7" stroke-width="0.54" stroke="#eee"/>
<rect x="331.6" y="506.4" width="2" height="4.4" fill="#fff" stroke-width="0.68"/>
<rect x="333.6" y="504.4" width="4.4" height="8.4" rx="0.8" fill="#fff" stroke-width="0.81"/>
<line x1="333.6" y1="507.1" x2="338" y2="507.1" stroke-width="0.54"/>
<line x1="333.6" y1="510.1" x2="338" y2="510.1" stroke-width="0.54"/>
<rect x="338" y="506" width="4.4" height="5.2" rx="0.8" fill="#fff" stroke-width="0.81"/>
<rect x="342.4" y="507.4" width="2" height="2.4" fill="#fff" stroke-width="0.68"/>
<rect x="466.6" y="411.8" width="316.4" height="115.4" fill="#fff" stroke-width="1.08"/>
<text x="437.6" y="399" fill="#1a1a1a" stroke="none" font-size="12" class="d">4</text>
<text x="444.8" y="398.8" fill="#1a1a1a" stroke="none" font-size="10.5" class="d">–</text>
<text x="456.4" y="399.4" fill="#1a1a1a" stroke="none" font-size="11.2" class="d" text-anchor="middle">ϕ</text>
<text x="461.6" y="399" fill="#1a1a1a" stroke="none" font-size="12" class="d">D</text>
<polyline points="438,403 461,403 474.4,419.6" fill="none" stroke-width="0.84"/>
<line x1="440" y1="411.8" x2="466.6" y2="411.8" stroke-width="0.68"/>
<line x1="440" y1="527.2" x2="466.6" y2="527.2" stroke-width="0.68"/>
<line x1="443.4" y1="411.8" x2="443.4" y2="527.2" stroke-width="0.81"/>
<polygon points="443.4,411.8 442.2,416.8 444.6,416.8" fill="#1c1c1c" stroke-width="0.27"/>
<polygon points="443.4,527.2 442.2,522.2 444.6,522.2" fill="#1c1c1c" stroke-width="0.27"/>
<text x="441" y="469" fill="#1a1a1a" stroke="none" font-size="12" class="d" text-anchor="middle" transform="rotate(-90 441 469)">W</text>
<line x1="451" y1="421" x2="471" y2="421" stroke-width="0.68"/>
<line x1="451" y1="517.4" x2="471" y2="517.4" stroke-width="0.68"/>
<line x1="456.6" y1="421" x2="456.6" y2="517.4" stroke-width="0.81"/>
<polygon points="456.6,421 455.4,426 457.8,426" fill="#1c1c1c" stroke-width="0.27"/>
<polygon points="456.6,517.4 455.4,512.4 457.8,512.4" fill="#1c1c1c" stroke-width="0.27"/>
<text x="455.2" y="468.9" fill="#1a1a1a" stroke="none" font-size="11.7" class="d" text-anchor="middle" transform="rotate(-90 455.2 468.9)" textLength="15.7" lengthAdjust="spacingAndGlyphs">W1</text>
<circle cx="475.6" cy="421" r="1.9" fill="#ddd" stroke-width="0.81"/>
<line x1="470.4" y1="421" x2="480.8" y2="421" stroke-width="0.68"/>
<line x1="475.6" y1="415.8" x2="475.6" y2="426.2" stroke-width="0.68"/>
<circle cx="774.4" cy="422" r="1.9" fill="#ddd" stroke-width="0.81"/>
<line x1="769.2" y1="422" x2="779.6" y2="422" stroke-width="0.68"/>
<line x1="774.4" y1="416.8" x2="774.4" y2="427.2" stroke-width="0.68"/>
<circle cx="475.2" cy="517.4" r="1.9" fill="#ddd" stroke-width="0.81"/>
<line x1="470" y1="517.4" x2="480.4" y2="517.4" stroke-width="0.68"/>
<line x1="475.2" y1="512.2" x2="475.2" y2="522.6" stroke-width="0.68"/>
<circle cx="774.4" cy="518.4" r="1.9" fill="#ddd" stroke-width="0.81"/>
<line x1="769.2" y1="518.4" x2="779.6" y2="518.4" stroke-width="0.68"/>
<line x1="774.4" y1="513.2" x2="774.4" y2="523.6" stroke-width="0.68"/>
<line x1="475.2" y1="517.4" x2="475.2" y2="543" stroke-width="0.68"/>
<line x1="774.4" y1="518.4" x2="774.4" y2="543" stroke-width="0.68"/>
<line x1="466.6" y1="527.2" x2="466.6" y2="561" stroke-width="0.68"/>
<line x1="783" y1="527.2" x2="783" y2="561" stroke-width="0.68"/>
<line x1="475.2" y1="540.4" x2="774.4" y2="540.4" stroke-width="0.81"/>
<polygon points="475.2,540.4 480.2,539.2 480.2,541.6" fill="#1c1c1c" stroke-width="0.27"/>
<polygon points="774.4,540.4 769.4,539.2 769.4,541.6" fill="#1c1c1c" stroke-width="0.27"/>
<line x1="466.6" y1="557.1" x2="783" y2="557.1" stroke-width="0.81"/>
<polygon points="466.6,557.1 471.6,555.9 471.6,558.3" fill="#1c1c1c" stroke-width="0.27"/>
<polygon points="783,557.1 778,555.9 778,558.3" fill="#1c1c1c" stroke-width="0.27"/>
<text x="625.9" y="539.2" fill="#1a1a1a" stroke="none" font-size="11.7" class="d" text-anchor="middle" letter-spacing="-0.5">L1</text>
<text x="625.2" y="555.7" fill="#1a1a1a" stroke="none" font-size="11.7" class="d" text-anchor="middle">L</text>
<circle cx="490.4" cy="421" r="1.3" fill="#fff" stroke-width="0.81"/>
<circle cx="478.6" cy="445.4" r="5.9" fill="#fff" stroke-width="1.01"/>
<circle cx="478.6" cy="445.4" r="3.2" fill="#fff" stroke-width="1.01"/>
<circle cx="478.6" cy="487" r="5.9" fill="#fff" stroke-width="1.01"/>
<circle cx="478.6" cy="487" r="3.2" fill="#fff" stroke-width="1.01"/>
<line x1="485.5" y1="504.1" x2="485.5" y2="509.9" stroke-width="1.01"/>
<line x1="482.4" y1="506.8" x2="488.6" y2="506.8" stroke-width="1.01"/>
<line x1="484.2" y1="509.2" x2="486.8" y2="509.2" stroke-width="0.68"/>
<circle cx="486.3" cy="517.2" r="3" fill="#fff" stroke-width="1.55"/>
<circle cx="553.7" cy="419.4" r="2.55" fill="#fff" stroke-width="0.84" stroke="#2a2a2a"/>
<circle cx="553.7" cy="419.4" r="0.93" fill="#fff" stroke-width="0.41" stroke="#444"/>
<line x1="553.25" y1="419.4" x2="554.15" y2="419.4" stroke-width="0.3" stroke="#555"/>
<line x1="553.7" y1="418.95" x2="553.7" y2="419.85" stroke-width="0.3" stroke="#555"/>
<circle cx="573" cy="419.4" r="2.55" fill="#fff" stroke-width="0.84" stroke="#2a2a2a"/>
<circle cx="573" cy="419.4" r="0.93" fill="#fff" stroke-width="0.41" stroke="#444"/>
<line x1="572.55" y1="419.4" x2="573.45" y2="419.4" stroke-width="0.3" stroke="#555"/>
<line x1="573" y1="418.95" x2="573" y2="419.85" stroke-width="0.3" stroke="#555"/>
<circle cx="592.8" cy="419.4" r="2.55" fill="#fff" stroke-width="0.84" stroke="#2a2a2a"/>
<circle cx="592.8" cy="419.4" r="0.93" fill="#fff" stroke-width="0.41" stroke="#444"/>
<line x1="592.35" y1="419.4" x2="593.25" y2="419.4" stroke-width="0.3" stroke="#555"/>
<line x1="592.8" y1="418.95" x2="592.8" y2="419.85" stroke-width="0.3" stroke="#555"/>
<circle cx="612.1" cy="419.4" r="2.55" fill="#fff" stroke-width="0.84" stroke="#2a2a2a"/>
<circle cx="612.1" cy="419.4" r="0.93" fill="#fff" stroke-width="0.41" stroke="#444"/>
<line x1="611.65" y1="419.4" x2="612.55" y2="419.4" stroke-width="0.3" stroke="#555"/>
<line x1="612.1" y1="418.95" x2="612.1" y2="419.85" stroke-width="0.3" stroke="#555"/>
<circle cx="698.7" cy="419.4" r="2.55" fill="#fff" stroke-width="0.84" stroke="#2a2a2a"/>
<circle cx="698.7" cy="419.4" r="0.93" fill="#fff" stroke-width="0.41" stroke="#444"/>
<line x1="698.25" y1="419.4" x2="699.15" y2="419.4" stroke-width="0.3" stroke="#555"/>
<line x1="698.7" y1="418.95" x2="698.7" y2="419.85" stroke-width="0.3" stroke="#555"/>
<circle cx="757.1" cy="419.4" r="2.55" fill="#fff" stroke-width="0.84" stroke="#2a2a2a"/>
<circle cx="757.1" cy="419.4" r="0.93" fill="#fff" stroke-width="0.41" stroke="#444"/>
<line x1="756.65" y1="419.4" x2="757.55" y2="419.4" stroke-width="0.3" stroke="#555"/>
<line x1="757.1" y1="418.95" x2="757.1" y2="419.85" stroke-width="0.3" stroke="#555"/>
<text x="564.8" y="422.4" fill="#1a1a1a" stroke="none" font-size="7" text-anchor="middle">常</text>
<text x="582.6" y="422.4" fill="#1a1a1a" stroke="none" font-size="7" text-anchor="middle">用电</text>
<text x="602.2" y="422.4" fill="#1a1a1a" stroke="none" font-size="7" text-anchor="middle">源</text>
<text x="728.5" y="422.6" fill="#1a1a1a" stroke="none" font-size="6.9" text-anchor="middle">备用电源</text>
<path d="M502.59 420.54 V415.58 Q502.59 413.42 504.85 413.42 H530.07 Q532.34 413.42 532.34 415.58 V420.54" fill="#fff" stroke-width="0.94"/>
<path d="M503.04 517.96 V522.74 Q503.04 524.9 505.31 524.9 H530.25 Q532.52 524.9 532.52 522.74 V517.96" fill="#fff" stroke-width="0.94"/>
<circle cx="506.58" cy="417.38" r="2.36" fill="#222" stroke-width="0.41"/>
<line x1="505.31" y1="416.11" x2="507.85" y2="418.65" stroke-width="0.54" stroke="#999"/>
<line x1="505.31" y1="418.65" x2="507.85" y2="416.11" stroke-width="0.54" stroke="#999"/>
<circle cx="528.25" cy="417.38" r="2.36" fill="#222" stroke-width="0.41"/>
<line x1="526.98" y1="416.11" x2="529.52" y2="418.65" stroke-width="0.54" stroke="#999"/>
<line x1="526.98" y1="418.65" x2="529.52" y2="416.11" stroke-width="0.54" stroke="#999"/>
<circle cx="506.94" cy="520.75" r="2.36" fill="#222" stroke-width="0.41"/>
<line x1="505.67" y1="519.48" x2="508.21" y2="522.02" stroke-width="0.54" stroke="#999"/>
<line x1="505.67" y1="522.02" x2="508.21" y2="519.48" stroke-width="0.54" stroke="#999"/>
<circle cx="528.53" cy="520.75" r="2.36" fill="#222" stroke-width="0.41"/>
<line x1="527.26" y1="519.48" x2="529.8" y2="522.02" stroke-width="0.54" stroke="#999"/>
<line x1="527.26" y1="522.02" x2="529.8" y2="519.48" stroke-width="0.54" stroke="#999"/>
<rect x="496.6" y="420" width="41.99" height="98.41" rx="1.45" fill="#fff" stroke-width="1.08"/>
<rect x="498.41" y="421.89" width="38.37" height="94.89" rx="0.54" fill="#fff" stroke-width="0.94"/>
<rect x="498.41" y="435.6" width="38.37" height="8.3" fill="#fff" stroke-width="1.22"/>
<rect x="499.77" y="436.51" width="10.34" height="3.07" fill="#333" stroke-width="0.41"/>
<rect x="499.77" y="440.11" width="10.34" height="3.07" fill="#333" stroke-width="0.41"/>
<text x="504.94" y="438.94" fill="#ddd" stroke="none" font-size="2.36" text-anchor="middle" font-weight="700">SET1</text>
<text x="504.94" y="442.55" fill="#ddd" stroke="none" font-size="2.36" text-anchor="middle" font-weight="700">SET2</text>
<rect x="510.48" y="436.51" width="21.31" height="6.67" fill="#fff" stroke-width="0.81"/>
<text x="513.38" y="442.37" fill="#333" stroke="none" font-size="6.35" text-anchor="middle">8</text>
<text x="518.64" y="442.37" fill="#333" stroke="none" font-size="6.35" text-anchor="middle">8</text>
<text x="523.9" y="442.37" fill="#333" stroke="none" font-size="6.35" text-anchor="middle">8</text>
<text x="529.16" y="442.37" fill="#333" stroke="none" font-size="6.35" text-anchor="middle">8</text>
<rect x="500.14" y="445.62" width="9.43" height="3.7" rx="0.73" fill="#fff" stroke-width="1.35"/>
<text x="504.85" y="448.5" fill="#333" stroke="none" font-size="2.36" text-anchor="middle" font-weight="700">AUTO</text>
<rect x="514.2" y="449.04" width="4.72" height="5.41" fill="#fff" stroke-width="0.94"/>
<line x1="516.55" y1="454.46" x2="516.55" y2="470.33" stroke-width="0.81"/>
<circle cx="516.55" cy="459.78" r="0.91" fill="#222" stroke-width="0.41"/>
<circle cx="516.55" cy="466.09" r="0.91" fill="#fff" stroke-width="0.68"/>
<rect x="525.44" y="449.04" width="4.72" height="5.41" fill="#fff" stroke-width="0.94"/>
<line x1="527.8" y1="454.46" x2="527.8" y2="470.33" stroke-width="0.81"/>
<circle cx="527.8" cy="459.78" r="0.91" fill="#222" stroke-width="0.41"/>
<circle cx="527.8" cy="466.09" r="0.91" fill="#fff" stroke-width="0.68"/>
<text x="516.55" y="453.64" fill="#333" stroke="none" font-size="3.99" text-anchor="middle" font-weight="700">N</text>
<text x="527.8" y="453.64" fill="#333" stroke="none" font-size="3.99" text-anchor="middle" font-weight="700">R</text>
<line x1="513.92" y1="459.78" x2="530.43" y2="459.78" stroke-width="0.81"/>
<line x1="513.92" y1="466.09" x2="515.65" y2="466.09" stroke-width="0.68"/>
<line x1="528.71" y1="466.09" x2="530.43" y2="466.09" stroke-width="0.68"/>
<polygon points="521,459.06 523.18,459.06 522.09,461.04" fill="#333" stroke-width="0.41"/>
<line x1="516.55" y1="470.33" x2="527.8" y2="470.33" stroke-width="0.81"/>
<line x1="522.09" y1="470.33" x2="522.09" y2="471.68" stroke-width="0.68"/>
<rect x="519.91" y="471.68" width="4.35" height="2.07" rx="0.45" fill="#fff" stroke-width="0.81"/>
<text x="513.02" y="460.59" fill="#333" stroke="none" font-size="2" text-anchor="end" font-weight="700">NA</text>
<text x="531.34" y="460.59" fill="#333" stroke="none" font-size="2" font-weight="700">RA</text>
<text x="513.02" y="466.9" fill="#333" stroke="none" font-size="2" text-anchor="end" font-weight="700">NB</text>
<text x="531.34" y="466.9" fill="#333" stroke="none" font-size="2" font-weight="700">RB</text>
<rect x="500.41" y="458.79" width="9.98" height="4.24" rx="0.91" fill="#fff" stroke-width="1.35"/>
<text x="504.13" y="461.94" fill="#333" stroke="none" font-size="2.09" text-anchor="middle" font-weight="700">N–ON</text>
<circle cx="508.3" cy="460.91" r="1.09" fill="#fff" stroke-width="0.81"/>
<rect x="500.41" y="464.29" width="9.98" height="4.15" rx="0.91" fill="#fff" stroke-width="1.35"/>
<text x="504.13" y="467.36" fill="#333" stroke="none" font-size="2.09" text-anchor="middle" font-weight="700">OFF</text>
<circle cx="508.3" cy="466.36" r="1.09" fill="#fff" stroke-width="0.81"/>
<rect x="500.41" y="469.79" width="9.98" height="4.33" rx="0.91" fill="#fff" stroke-width="1.35"/>
<text x="504.13" y="473.04" fill="#333" stroke="none" font-size="2.09" text-anchor="middle" font-weight="700">R–ON</text>
<circle cx="508.3" cy="471.96" r="1.09" fill="#fff" stroke-width="0.81"/>
<rect x="502.77" y="476.47" width="30.11" height="19.39" fill="#fff" stroke-width="1.22"/>
<rect x="512.29" y="476.47" width="20.59" height="3.79" fill="#333" stroke-width="0.54"/>
<text x="516.1" y="479.53" fill="#ddd" stroke="none" font-size="2.18" text-anchor="middle" font-weight="700">UP</text>
<text x="522.81" y="479.53" fill="#ddd" stroke="none" font-size="2.18" text-anchor="middle" font-weight="700">DOWN</text>
<text x="529.61" y="479.53" fill="#ddd" stroke="none" font-size="2.18" text-anchor="middle" font-weight="700">ENT</text>
<line x1="512.29" y1="476.47" x2="512.29" y2="495.86" stroke-width="1.08"/>
<rect x="513.11" y="480.79" width="5.99" height="6.13" fill="#fff" stroke-width="1.22"/>
<rect x="519.91" y="480.79" width="5.9" height="6.13" fill="#fff" stroke-width="1.22"/>
<rect x="526.71" y="480.79" width="5.8" height="6.13" fill="#fff" stroke-width="1.22"/>
<polygon points="516.1,481.97 518.1,485.76 514.11,485.76" fill="#222" stroke-width="0.27"/>
<polygon points="522.86,485.76 524.85,481.97 520.86,481.97" fill="#222" stroke-width="0.27"/>
<polyline points="531.16,482.51 531.16,484.49 528.07,484.49" fill="none" stroke-width="0.68"/>
<rect x="512.29" y="488.28" width="20.59" height="7.58" fill="#fff" stroke-width="1.35"/>
<circle cx="515.92" cy="491.98" r="2.63" fill="#222" stroke-width="0.41"/>
<line x1="514.47" y1="493.42" x2="517.37" y2="490.54" stroke-width="0.81" stroke="#fff"/>
<circle cx="521" cy="491.98" r="0.54" fill="#222" stroke-width="0.27"/>
<circle cx="524.72" cy="491.98" r="0.54" fill="#222" stroke-width="0.27"/>
<circle cx="529.98" cy="491.98" r="2.54" fill="#222" stroke-width="0.41"/>
<line x1="528.53" y1="491.98" x2="531.43" y2="491.98" stroke-width="0.94" stroke="#fff"/>
<polygon points="507.48,477.28 509.39,480.7 505.58,480.7" fill="#fff" stroke-width="0.81"/>
<text x="507.48" y="480.43" fill="#222" stroke="none" font-size="2.54" text-anchor="middle" font-weight="700">!</text>
<text x="507.48" y="483.5" fill="#333" stroke="none" font-size="2.36" text-anchor="middle" font-weight="700">注意</text>
<text x="507.48" y="486.21" fill="#333" stroke="none" font-size="2.36" text-anchor="middle" font-weight="700">安全</text>
<rect x="504.22" y="488.28" width="6.98" height="2.98" rx="0.54" fill="#fff" stroke-width="1.08"/>
<text x="507.67" y="490.63" fill="#333" stroke="none" font-size="2.09" text-anchor="middle" font-weight="700">RST</text>
<text x="508.48" y="494.87" fill="#333" stroke="none" font-size="2.09" text-anchor="middle" font-weight="700">I·O</text>
<circle cx="511.02" cy="494.14" r="0.73" fill="#fff" stroke-width="0.54"/>
<line x1="498.41" y1="500.19" x2="536.78" y2="500.19" stroke-width="0.81"/>
<line x1="498.41" y1="504.43" x2="536.78" y2="504.43" stroke-width="0.81"/>
<rect x="506.4" y="500.19" width="8.44" height="4.24" fill="#fff" stroke-width="0.81"/>
<rect x="521" y="500.19" width="8.07" height="4.24" fill="#fff" stroke-width="0.81"/>
<text x="510.66" y="503.25" fill="#222" stroke="none" font-size="2.18" text-anchor="middle" font-weight="700">AUTO</text>
<text x="525.08" y="503.25" fill="#222" stroke="none" font-size="2.18" text-anchor="middle" font-weight="700">HAND</text>
<circle cx="509.93" cy="509.57" r="4.26" fill="#fff" stroke-width="0.94"/>
<circle cx="527.44" cy="509.57" r="4.26" fill="#fff" stroke-width="0.94"/>
<rect x="543.3" y="425.3" width="78.5" height="91.2" fill="#fff" stroke-width="1.08"/>
<path d="M550.3 425.3 V429.7 A3.1 3.1 0 0 0 556.5 429.7 V425.3" fill="#fff" stroke-width="0.81"/>
<path d="M550.3 516.5 V512.5 A3.1 3.1 0 0 1 556.5 512.5 V516.5" fill="#fff" stroke-width="0.81"/>
<path d="M569.9 425.3 V429.7 A3.1 3.1 0 0 0 576.1 429.7 V425.3" fill="#fff" stroke-width="0.81"/>
<path d="M569.9 516.5 V512.5 A3.1 3.1 0 0 1 576.1 512.5 V516.5" fill="#fff" stroke-width="0.81"/>
<path d="M589.5 425.3 V429.7 A3.1 3.1 0 0 0 595.7 429.7 V425.3" fill="#fff" stroke-width="0.81"/>
<path d="M589.5 516.5 V512.5 A3.1 3.1 0 0 1 595.7 512.5 V516.5" fill="#fff" stroke-width="0.81"/>
<path d="M608.8 425.3 V429.7 A3.1 3.1 0 0 0 615 429.7 V425.3" fill="#fff" stroke-width="0.81"/>
<path d="M608.8 516.5 V512.5 A3.1 3.1 0 0 1 615 512.5 V516.5" fill="#fff" stroke-width="0.81"/>
<line x1="543.3" y1="434.7" x2="621.8" y2="434.7" stroke-width="0.81"/>
<line x1="543.3" y1="440.9" x2="621.8" y2="440.9" stroke-width="0.81"/>
<line x1="543.3" y1="500.1" x2="621.8" y2="500.1" stroke-width="0.81"/>
<line x1="543.3" y1="506.4" x2="621.8" y2="506.4" stroke-width="0.81"/>
<rect x="584.9" y="445" width="15" height="41.3" fill="#fff" stroke-width="0.94"/>
<line x1="543.3" y1="486.7" x2="608" y2="486.7" stroke-width="0.81"/>
<rect x="588.4" y="450.6" width="8.2" height="12.2" fill="#fff" stroke-width="0.81"/>
<rect x="587.7" y="462.8" width="12.2" height="8.1" fill="#fff" stroke-width="0.94"/>
<rect x="588.4" y="470.9" width="10.8" height="3.5" fill="#fff" stroke-width="0.68"/>
<line x1="590.1" y1="470.9" x2="590.1" y2="474.4" stroke-width="0.94"/>
<line x1="596.7" y1="470.9" x2="596.7" y2="474.4" stroke-width="0.94"/>
<rect x="587.7" y="474.4" width="12.2" height="8.6" fill="#fff" stroke-width="0.94"/>
<path d="M599.9 464.3 Q612.9 463.6 621.8 457.2" fill="none" stroke-width="0.81"/>
<path d="M599.9 481.5 Q614.8 483.5 621.8 501.8" fill="none" stroke-width="0.81"/>
<circle cx="563.4" cy="434.7" r="2.7" fill="#fff" stroke-width="1.15"/>
<line x1="563.4" y1="430.9" x2="563.4" y2="438.5" stroke-width="0.68"/>
<rect x="562.65" y="432.59" width="1.5" height="4.21" fill="#777" stroke-width="0.47"/>
<line x1="560.7" y1="434.7" x2="566.1" y2="434.7" stroke-width="0.54"/>
<circle cx="602.1" cy="434.7" r="2.7" fill="#fff" stroke-width="1.15"/>
<line x1="602.1" y1="430.9" x2="602.1" y2="438.5" stroke-width="0.68"/>
<rect x="601.35" y="432.59" width="1.5" height="4.21" fill="#777" stroke-width="0.47"/>
<line x1="599.4" y1="434.7" x2="604.8" y2="434.7" stroke-width="0.54"/>
<circle cx="562.9" cy="506.4" r="2.7" fill="#fff" stroke-width="1.15"/>
<line x1="562.9" y1="502.6" x2="562.9" y2="510.2" stroke-width="0.68"/>
<rect x="562.15" y="504.29" width="1.5" height="4.21" fill="#777" stroke-width="0.47"/>
<line x1="560.2" y1="506.4" x2="565.6" y2="506.4" stroke-width="0.54"/>
<circle cx="601.7" cy="506.4" r="2.7" fill="#fff" stroke-width="1.15"/>
<line x1="601.7" y1="502.6" x2="601.7" y2="510.2" stroke-width="0.68"/>
<rect x="600.95" y="504.29" width="1.5" height="4.21" fill="#777" stroke-width="0.47"/>
<line x1="599" y1="506.4" x2="604.4" y2="506.4" stroke-width="0.54"/>
<rect x="689.3" y="425.3" width="78.1" height="91.2" fill="#fff" stroke-width="1.08"/>
<path d="M695.6 425.3 V429.7 A3.1 3.1 0 0 0 701.8 429.7 V425.3" fill="#fff" stroke-width="0.81"/>
<path d="M695.6 516.5 V512.5 A3.1 3.1 0 0 1 701.8 512.5 V516.5" fill="#fff" stroke-width="0.81"/>
<path d="M714.9 425.3 V429.7 A3.1 3.1 0 0 0 721.1 429.7 V425.3" fill="#fff" stroke-width="0.81"/>
<path d="M714.9 516.5 V512.5 A3.1 3.1 0 0 1 721.1 512.5 V516.5" fill="#fff" stroke-width="0.81"/>
<path d="M734.7 425.3 V429.7 A3.1 3.1 0 0 0 740.9 429.7 V425.3" fill="#fff" stroke-width="0.81"/>
<path d="M734.7 516.5 V512.5 A3.1 3.1 0 0 1 740.9 512.5 V516.5" fill="#fff" stroke-width="0.81"/>
<path d="M754.5 425.3 V429.7 A3.1 3.1 0 0 0 760.7 429.7 V425.3" fill="#fff" stroke-width="0.81"/>
<path d="M754.5 516.5 V512.5 A3.1 3.1 0 0 1 760.7 512.5 V516.5" fill="#fff" stroke-width="0.81"/>
<line x1="689.3" y1="434.7" x2="767.4" y2="434.7" stroke-width="0.81"/>
<line x1="689.3" y1="440.9" x2="767.4" y2="440.9" stroke-width="0.81"/>
<line x1="689.3" y1="500.1" x2="767.4" y2="500.1" stroke-width="0.81"/>
<line x1="689.3" y1="506.4" x2="767.4" y2="506.4" stroke-width="0.81"/>
<rect x="730.2" y="445" width="15.2" height="41.3" fill="#fff" stroke-width="0.94"/>
<line x1="716" y1="486.7" x2="767.4" y2="486.7" stroke-width="0.81"/>
<rect x="733.4" y="450.6" width="8.6" height="12.2" fill="#fff" stroke-width="0.81"/>
<rect x="730.5" y="462.8" width="11.3" height="8.1" fill="#fff" stroke-width="0.94"/>
<rect x="731.2" y="470.9" width="9.9" height="3.5" fill="#fff" stroke-width="0.68"/>
<line x1="732.9" y1="470.9" x2="732.9" y2="474.4" stroke-width="0.94"/>
<line x1="738.6" y1="470.9" x2="738.6" y2="474.4" stroke-width="0.94"/>
<rect x="730.5" y="474.4" width="11.3" height="8.6" fill="#fff" stroke-width="0.94"/>
<path d="M730.5 464.3 Q708.5 464 689.3 456.2" fill="none" stroke-width="0.81"/>
<path d="M730.5 481.5 Q703.3 483 689.3 502.8" fill="none" stroke-width="0.81"/>
<circle cx="708.6" cy="434.7" r="2.7" fill="#fff" stroke-width="1.15"/>
<line x1="708.6" y1="430.9" x2="708.6" y2="438.5" stroke-width="0.68"/>
<rect x="707.85" y="432.59" width="1.5" height="4.21" fill="#777" stroke-width="0.47"/>
<line x1="705.9" y1="434.7" x2="711.3" y2="434.7" stroke-width="0.54"/>
<circle cx="747.4" cy="434.7" r="2.7" fill="#fff" stroke-width="1.15"/>
<line x1="747.4" y1="430.9" x2="747.4" y2="438.5" stroke-width="0.68"/>
<rect x="746.65" y="432.59" width="1.5" height="4.21" fill="#777" stroke-width="0.47"/>
<line x1="744.7" y1="434.7" x2="750.1" y2="434.7" stroke-width="0.54"/>
<circle cx="708.9" cy="506.4" r="2.7" fill="#fff" stroke-width="1.15"/>
<line x1="708.9" y1="502.6" x2="708.9" y2="510.2" stroke-width="0.68"/>
<rect x="708.15" y="504.29" width="1.5" height="4.21" fill="#777" stroke-width="0.47"/>
<line x1="706.2" y1="506.4" x2="711.6" y2="506.4" stroke-width="0.54"/>
<circle cx="747.6" cy="506.4" r="2.7" fill="#fff" stroke-width="1.15"/>
<line x1="747.6" y1="502.6" x2="747.6" y2="510.2" stroke-width="0.68"/>
<rect x="746.85" y="504.29" width="1.5" height="4.21" fill="#777" stroke-width="0.47"/>
<line x1="744.9" y1="506.4" x2="750.3" y2="506.4" stroke-width="0.54"/>
<rect x="634" y="423.8" width="3.2" height="2.2" rx="0.8" fill="#222" stroke-width="0.41"/>
<rect x="634" y="517" width="3.2" height="2.4" rx="0.8" fill="#222" stroke-width="0.41"/>
<rect x="673.4" y="423.8" width="3.2" height="2.2" rx="0.8" fill="#222" stroke-width="0.41"/>
<rect x="673.4" y="517" width="3.2" height="2.4" rx="0.8" fill="#222" stroke-width="0.41"/>
<rect x="622.6" y="425.6" width="65" height="91.8" rx="1.8" fill="#fff" stroke-width="1.08"/>
<rect x="653.4" y="427.4" width="32.6" height="22.6" rx="2" fill="#fff" stroke-width="1.08"/>
<text x="670.2" y="456" fill="#111" stroke="none" font-size="2.6" text-anchor="middle" font-weight="700">双电源自动切换开关电器</text>
<path d="M637.7 481.8 A16.7 16.7 0 0 1 671.1 481.8" fill="none" stroke-width="3" stroke="#111"/>
<path d="M652.65 465.19 A16.7 16.7 0 0 1 656.15 465.19" fill="none" stroke-width="0.81" stroke="#fff"/>
<path d="M641.61 471.07 A16.7 16.7 0 0 1 646.56 467.05" fill="none" stroke-width="0.81" stroke="#fff"/>
<path d="M662.24 467.05 A16.7 16.7 0 0 1 667.19 471.07" fill="none" stroke-width="0.81" stroke="#fff"/>
<circle cx="654.4" cy="481.8" r="4" fill="#fff" stroke-width="0.94"/>
<text x="654.4" y="462" fill="#222" stroke="none" font-size="1.9" text-anchor="middle" font-weight="700">分</text>
<text x="638.8" y="469.8" fill="#222" stroke="none" font-size="1.9" text-anchor="end" font-weight="700">N合</text>
<text x="672" y="469.8" fill="#222" stroke="none" font-size="1.9" font-weight="700">R合</text>
<rect x="641.4" y="497" width="28.6" height="13" rx="1.2" fill="#fff" stroke-width="0.94"/>
<rect x="643.83" y="498.95" width="23.74" height="9.36" fill="#fff" stroke-width="1.22"/>
<rect x="647.55" y="502.07" width="17.16" height="3.77" fill="#fff" stroke-width="0.81"/>
<rect x="647.55" y="502.07" width="5.15" height="3.77" fill="#999" stroke-width="0.68"/>
<line x1="649.26" y1="502.07" x2="649.26" y2="505.84" stroke-width="0.54" stroke="#fff"/>
<line x1="650.98" y1="502.07" x2="650.98" y2="505.84" stroke-width="0.54" stroke="#fff"/>
<text x="647.12" y="494.28" fill="#222" stroke="none" font-size="1.9" text-anchor="end" font-weight="700">自动</text>
<line x1="648.84" y1="493.6" x2="662.28" y2="493.6" stroke-width="0.68"/>
<text x="664.28" y="494.28" fill="#222" stroke="none" font-size="1.9" font-weight="700">手动</text>
<line x1="801.1" y1="527.5" x2="801.1" y2="561.3" stroke-width="0.68"/>
<line x1="880.4" y1="519" x2="880.4" y2="561.3" stroke-width="0.68"/>
<line x1="883.8" y1="506.8" x2="883.8" y2="561.3" stroke-width="0.68"/>
<line x1="801.1" y1="556.5" x2="880.4" y2="556.5" stroke-width="0.81"/>
<polygon points="801.1,556.5 806.1,555.3 806.1,557.7" fill="#1c1c1c" stroke-width="0.27"/>
<polygon points="880.4,556.5 875.4,555.3 875.4,557.7" fill="#1c1c1c" stroke-width="0.27"/>
<line x1="883.8" y1="556.5" x2="898.6" y2="556.5" stroke-width="0.81"/>
<polygon points="883.8,556.5 888.8,555.3 888.8,557.7" fill="#1c1c1c" stroke-width="0.27"/>
<text x="841.6" y="554.5" fill="#1a1a1a" stroke="none" font-size="12" class="d" text-anchor="middle">H</text>
<text x="892" y="554.6" fill="#1a1a1a" stroke="none" font-size="12" class="d" text-anchor="middle">6</text>
<rect x="863.4" y="425.8" width="17" height="93.2" fill="#fff" stroke-width="0.94"/>
<rect x="813.4" y="415.4" width="2.8" height="4.6" fill="#fff" stroke-width="0.68"/>
<rect x="813.4" y="420.2" width="50" height="98.8" fill="#fff" stroke-width="0.94"/>
<rect x="801.1" y="413.5" width="12.3" height="114" fill="#fff" stroke-width="1.08"/>
<rect x="880.4" y="501.3" width="3.4" height="5.5" fill="#fff" stroke-width="0.81"/>
<polygon points="816.8,427.1 818.8,429.7 816.8,432.3 814.8,429.7" fill="#222" stroke-width="0.27"/>
<line x1="816.8" y1="426.1" x2="816.8" y2="433.3" stroke-width="0.54"/>
<polygon points="816.8,506.6 818.8,509.2 816.8,511.8 814.8,509.2" fill="#222" stroke-width="0.27"/>
<line x1="816.8" y1="505.6" x2="816.8" y2="512.8" stroke-width="0.54"/>
<rect x="819.7" y="429.4" width="7.7" height="34" rx="1.6" fill="#fff" stroke-width="0.94"/>
<rect x="831.7" y="429.4" width="7.9" height="31" rx="1.6" fill="#fff" stroke-width="0.94"/>
<rect x="819.7" y="469.5" width="7.7" height="36" rx="1.6" fill="#fff" stroke-width="0.94"/>
<rect x="854.7" y="484.6" width="7.9" height="17.1" rx="1.6" fill="#fff" stroke-width="0.94"/>
<rect x="863.8" y="435.8" width="6.8" height="71" fill="#fff" stroke-width="0.94"/>
<rect x="866.2" y="437" width="2.4" height="25" fill="#fff" stroke-width="0.68"/>
<path d="M867 438 V443 L868.4 441.5" fill="none" stroke-width="0.54"/>
<rect x="867" y="456" width="2.6" height="6" rx="0.8" fill="#fff" stroke-width="0.54"/>
<rect x="865.4" y="462" width="4.4" height="41" fill="#fff" stroke-width="0.81"/>
<rect x="866.6" y="484.6" width="2.4" height="17.4" fill="#666" stroke-width="0.54"/>
<path d="M865.8 470.3 H872.8 A2.75 2.75 0 0 1 872.8 475.8 H865.8 Z" fill="#fff" stroke-width="0.94"/>
<line x1="828.5" y1="519" x2="863.4" y2="519" stroke-width="0.81"/>
<rect x="813.6" y="515.58" width="1.51" height="6.05" fill="#fff" stroke-width="0.68"/>
<rect x="815.11" y="515.91" width="2.86" height="5.38" fill="#777" stroke-width="0.68"/>
<line x1="815.11" y1="517.68" x2="817.97" y2="517.68" stroke-width="0.54" stroke="#eee"/>
<line x1="815.11" y1="519.52" x2="817.97" y2="519.52" stroke-width="0.54" stroke="#eee"/>
<rect x="817.97" y="516.75" width="1.68" height="3.7" fill="#fff" stroke-width="0.68"/>
<rect x="819.65" y="515.07" width="3.7" height="7.06" rx="0.8" fill="#fff" stroke-width="0.81"/>
<line x1="819.65" y1="517.34" x2="823.34" y2="517.34" stroke-width="0.54"/>
<line x1="819.65" y1="519.86" x2="823.34" y2="519.86" stroke-width="0.54"/>
<rect x="823.34" y="516.42" width="3.7" height="4.37" rx="0.8" fill="#fff" stroke-width="0.81"/>
<rect x="827.04" y="517.59" width="1.68" height="2.02" fill="#fff" stroke-width="0.68"/>
<text x="152.6" y="257.7" fill="#1a1a1a" stroke="none" font-size="15" textLength="161" lengthAdjust="spacing" style="stroke:#1a1a1a;stroke-width:0.3px"><tspan font-size="13.5">图</tspan>1 S–WATS–A–63<tspan font-size="13.5">外形</tspan></text>
<text x="135.2" y="272.8" fill="#0aa24a" stroke="none" font-size="13.4" textLength="194.2" lengthAdjust="spacing" style="stroke:#0aa24a;stroke-width:0.25px">Figure 1 S–WATS–A–63 shape</text>
<text x="612.4" y="248" fill="#1a1a1a" stroke="none" font-size="15" textLength="201.8" lengthAdjust="spacing" style="stroke:#1a1a1a;stroke-width:0.3px"><tspan font-size="13.5">图</tspan>2 S–WATS–A–100~250<tspan font-size="13.5">外形</tspan></text>
<text x="597.2" y="264.2" fill="#0aa24a" stroke="none" font-size="13.4" textLength="231.6" lengthAdjust="spacing" style="stroke:#0aa24a;stroke-width:0.25px">Figure2 S–WATS–A–100~250 shape</text>
<text x="149.1" y="606.2" fill="#1a1a1a" stroke="none" font-size="15" textLength="160.7" lengthAdjust="spacing" style="stroke:#1a1a1a;stroke-width:0.3px"><tspan font-size="13.5">图</tspan>3 S–WATS–B–63<tspan font-size="13.5">外形</tspan></text>
<text x="135.2" y="622.5" fill="#0aa24a" stroke="none" font-size="13.4" textLength="194" lengthAdjust="spacing" style="stroke:#0aa24a;stroke-width:0.25px">Figure 3 S–WATS–B–63 shape</text>
<text x="609.1" y="608" fill="#1a1a1a" stroke="none" font-size="15" textLength="201.5" lengthAdjust="spacing" style="stroke:#1a1a1a;stroke-width:0.3px"><tspan font-size="13.5">图</tspan>4 S–WATS–B–100~630<tspan font-size="13.5">外形</tspan></text>
<text x="600.5" y="627.3" fill="#0aa24a" stroke="none" font-size="13.4" textLength="225.4" lengthAdjust="spacing" style="stroke:#0aa24a;stroke-width:0.25px">Figure 4 S–WATS–B–100~630 shape</text>
</svg>
<h2><span class="dot"></span>S-WATS<span class="cn">系列外形尺寸及安装尺寸</span></h2>
<table>
<colgroup><col style="width:165px"><col style="width:109px"><col style="width:110px"><col style="width:111px"><col style="width:118px"><col style="width:124px"><col style="width:87px"></colgroup>
<thead>
<tr><th rowspan="2" class="big first">型号</th><th colspan="3" class="big">外型尺寸<span class="lat">(mm)</span></th><th colspan="3" class="big">安装尺寸<span class="lat">(mm)</span></th></tr>
<tr class="h28"><th>L(3P/4P)</th><th>W1(3P/4P)</th><th>H(3P/4P)</th><th>L1(3P/4P)</th><th>W1(3P/4P)</th><th>D(<span style="font-size:12px;padding:0 4px 0 4.5px">ϕ</span>)</th></tr>
</thead>
<tbody>
<tr class="h28"><td class="m">S-WATSNA-63</td><td>350</td><td>200</td><td>125</td><td>320</td><td>170</td><td>5.5</td></tr>
<tr><td class="m">S-WATSNA-100</td><td>430/500</td><td>200</td><td>140</td><td>400/470</td><td>155</td><td>6.5</td></tr>
<tr class="h28"><td class="m">S-WATSNA-160</td><td>430/500</td><td>200</td><td>140</td><td>400/470</td><td>155</td><td>6.5</td></tr>
<tr class="h28"><td class="m">S-WATSNA-250</td><td>430/500</td><td>200</td><td>140</td><td>400/470</td><td>155</td><td>6.5</td></tr>
<tr><td class="m">S-WATSNB-63</td><td>470</td><td>200</td><td>125</td><td>440</td><td>170</td><td>5.5</td></tr>
<tr class="h28"><td class="m">S-WATSNB-100</td><td>500/570</td><td>200</td><td>140</td><td>470/540</td><td>170</td><td>6.5</td></tr>
<tr class="h28"><td class="m">S-WATSNB-160</td><td>500/570</td><td>200</td><td>140</td><td>470/540</td><td>170</td><td>6.5</td></tr>
<tr><td class="m">S-WATSNB-250</td><td>500/570</td><td>200</td><td>140</td><td>470/540</td><td>170</td><td>6.5</td></tr>
<tr class="h28"><td class="m">S-WATSNB-400</td><td>620/710</td><td>275</td><td>190</td><td>590/680</td><td>245</td><td>9</td></tr>
<tr><td class="m">S-WATSNB-630</td><td>620/710</td><td>275</td><td>190</td><td>590/680</td><td>245</td><td>9</td></tr>
</tbody>
</table>
</body>
</html>
